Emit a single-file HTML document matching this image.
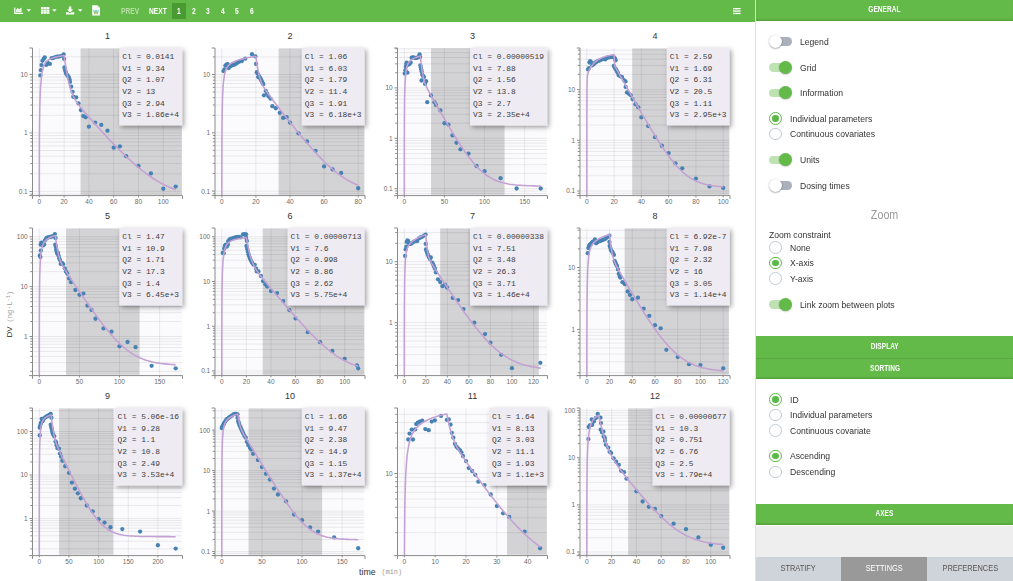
<!DOCTYPE html>
<html><head><meta charset="utf-8"><title>Individual fits</title>
<style>
*{box-sizing:border-box}
html,body{margin:0;padding:0;background:#fff;}
body{width:1013px;height:581px;overflow:hidden;position:relative;font-family:"Liberation Sans",sans-serif;color:#333;}
#tb{position:absolute;left:0;top:0;width:755px;height:21.6px;background:#63ba48;}
#tb span{position:absolute;color:#fff;font-weight:bold;font-size:8.2px;line-height:10px;top:7px;white-space:nowrap;transform-origin:0 50%;transform:scaleX(0.815);}
#tb .ic{position:absolute;}
#pg1{position:absolute;left:172px;top:2.8px;width:14.3px;height:16.2px;background:#4a9a33;}
#main{position:absolute;left:0;top:0;}
.tk text{font-family:"Liberation Sans",sans-serif;font-size:6.5px;fill:#6a6a6a;}
.ti{font-family:"Liberation Sans",sans-serif;font-size:9px;fill:#333;}
.inf text{font-family:"Liberation Mono",monospace;font-size:7.9px;fill:#3d3d3d;}
#vline{position:absolute;left:755px;top:0;width:1px;height:581px;background:#dfe2e6;}
#rp{position:absolute;left:756px;top:0;width:257px;height:581px;background:#fff;}
.bar{position:absolute;left:0;width:257px;background:#63ba48;color:#fff;font-weight:bold;font-size:8.2px;text-align:center;}
.bar b{display:inline-block;transform:scaleX(0.79);letter-spacing:0.1px}
.lbl{position:absolute;font-size:9px;line-height:12px;white-space:nowrap;color:#333;transform-origin:0 50%;transform:scaleX(0.955);}
.tg{position:absolute;left:12.5px;width:23.5px;height:13.4px;}
.tg i{position:absolute;left:2px;top:2.3px;width:21px;height:8.8px;border-radius:4.4px;background:#a9b1bc;}
.tg u{position:absolute;left:0;top:0;width:13.2px;height:13.2px;border-radius:50%;background:#fff;box-shadow:0 0.6px 1.6px rgba(0,0,0,.45);}
.tg.on i{background:#bfe2b3;left:0.5px;width:21px}
.tg.on u{left:10.3px;background:#63ba48;box-shadow:0 0.6px 1.5px rgba(0,0,0,.3);}
.rd{position:absolute;left:13px;width:12.8px;height:12.8px;border-radius:50%;border:1px solid #c3cad4;background:#fff;}
.rd.on{border-color:#5cb848;}
.rd.on:after{content:"";position:absolute;left:2.1px;top:2.1px;width:6.6px;height:6.6px;border-radius:50%;background:#5cb848;}
#tabs{position:absolute;left:0;top:557.3px;width:257px;height:24px;}
#tabs div{position:absolute;top:0;height:24px;font-size:8.9px;line-height:23px;text-align:center;color:#555;background:#cfd4da;}
#tabs div b{font-weight:normal;display:inline-block;transform:scaleX(0.835)}
</style></head>
<body>
<svg id="main" width="755" height="581" viewBox="0 0 755 581">
<defs><filter id="sh" x="-25%" y="-25%" width="160%" height="160%"><feDropShadow dx="1.8" dy="2" stdDeviation="2.9" flood-color="#000" flood-opacity="0.38"/></filter></defs>
<g>
<rect x="33.4" y="48.4" width="148.45" height="146.4" fill="#fbfbfe"/>
<rect x="80.6" y="48.4" width="101.25" height="146.4" fill="#d3d3d5"/>
<path d="M33.4 194.08H181.85M33.4 191.4H181.85M33.4 173.79H181.85M33.4 163.49H181.85M33.4 156.18H181.85M33.4 150.51H181.85M33.4 145.88H181.85M33.4 141.96H181.85M33.4 138.57H181.85M33.4 135.58H181.85M33.4 132.9H181.85M33.4 115.29H181.85M33.4 104.99H181.85M33.4 97.68H181.85M33.4 92.01H181.85M33.4 87.38H181.85M33.4 83.46H181.85M33.4 80.07H181.85M33.4 77.08H181.85M33.4 74.4H181.85M33.4 56.79H181.85M39.32 48.4V194.8M64.11 48.4V194.8M88.9 48.4V194.8M113.7 48.4V194.8M138.49 48.4V194.8M163.29 48.4V194.8" stroke="#000" stroke-opacity="0.085" stroke-width="0.9" fill="none"/>
<clipPath id="c0"><rect x="32.5" y="46" width="153" height="149.6"/></clipPath>
<g fill="#4682b4"><circle cx="40.36" cy="75.4" r="2.15"/><circle cx="40.91" cy="70.17" r="2.15"/><circle cx="41.46" cy="65.07" r="2.15"/><circle cx="42.42" cy="60.8" r="2.15"/><circle cx="43.8" cy="58.74" r="2.15"/><circle cx="44.77" cy="57.5" r="2.15"/><circle cx="46.14" cy="64.94" r="2.15"/><circle cx="47.25" cy="62.6" r="2.15"/><circle cx="48.21" cy="63.28" r="2.15"/><circle cx="49.86" cy="63.97" r="2.15"/><circle cx="51.65" cy="58.19" r="2.15"/><circle cx="53.03" cy="58.19" r="2.15"/><circle cx="55.1" cy="57.09" r="2.15"/><circle cx="57.16" cy="56.67" r="2.15"/><circle cx="58.54" cy="56.67" r="2.15"/><circle cx="60.61" cy="56.12" r="2.15"/><circle cx="62.67" cy="55.71" r="2.15"/><circle cx="63.64" cy="54.33" r="2.15"/><circle cx="64.19" cy="58.88" r="2.15"/><circle cx="64.46" cy="67.42" r="2.15"/><circle cx="65.01" cy="69.48" r="2.15"/><circle cx="65.56" cy="71.55" r="2.15"/><circle cx="66.12" cy="73.61" r="2.15"/><circle cx="67.08" cy="74.99" r="2.15"/><circle cx="68.18" cy="76.37" r="2.15"/><circle cx="68.87" cy="77.75" r="2.15"/><circle cx="69.56" cy="79.54" r="2.15"/><circle cx="69.97" cy="81.88" r="2.15"/><circle cx="71.21" cy="86.7" r="2.15"/><circle cx="72.59" cy="91.8" r="2.15"/><circle cx="73.28" cy="96.75" r="2.15"/><circle cx="76.17" cy="97.44" r="2.15"/><circle cx="78.51" cy="103.5" r="2.15"/><circle cx="80.85" cy="110.12" r="2.15"/><circle cx="83.33" cy="116.04" r="2.15"/><circle cx="85.67" cy="117.28" r="2.15"/><circle cx="88.9" cy="126.63" r="2.15"/><circle cx="95.1" cy="122.6" r="2.15"/><circle cx="101.3" cy="124.9" r="2.15"/><circle cx="107.5" cy="130.71" r="2.15"/><circle cx="113.7" cy="147.63" r="2.15"/><circle cx="119.9" cy="146.31" r="2.15"/><circle cx="126.1" cy="156.18" r="2.15"/><circle cx="138.49" cy="165.88" r="2.15"/><circle cx="150.89" cy="173.41" r="2.15"/><circle cx="163.29" cy="188.75" r="2.15"/><circle cx="175.68" cy="186.56" r="2.15"/></g>
<path d="M39.32 201.6 L39.37 162.51 L39.42 145.27 L39.47 135.25 L39.53 128.19 L39.58 122.76 L39.63 118.36 L39.68 114.68 L39.73 111.51 L39.78 108.74 L39.84 106.29 L39.89 104.09 L39.94 102.1 L39.99 100.29 L40.04 98.62 L40.09 97.09 L40.14 95.66 L40.2 94.34 L40.25 93.1 L40.3 91.94 L40.35 90.85 L40.4 89.82 L40.45 88.85 L40.51 87.93 L40.56 87.06 L41.37 77.44 L42.18 71.95 L42.99 68.41 L43.81 65.96 L44.62 64.19 L45.43 62.86 L46.24 61.84 L47.06 61.03 L47.87 60.37 L48.68 59.82 L49.49 59.36 L50.3 58.97 L51.12 58.62 L51.93 58.3 L52.74 58.02 L53.55 57.77 L54.37 57.53 L55.18 57.31 L55.99 57.1 L56.8 56.91 L57.61 56.73 L58.43 56.56 L59.24 56.39 L60.05 56.23 L60.86 56.08 L61.67 55.94 L62.49 55.81 L63.3 55.68 L64.11 55.55 L64.59 58.89 L65.07 62.11 L65.54 65.19 L66.02 68.13 L66.5 70.93 L66.97 73.57 L67.45 76.07 L67.93 78.42 L68.4 80.62 L68.88 82.68 L69.36 84.59 L69.83 86.37 L70.31 88.03 L70.79 89.57 L71.26 91 L71.74 92.32 L72.22 93.56 L72.69 94.71 L73.17 95.79 L73.65 96.8 L74.12 97.76 L74.6 98.65 L75.08 99.51 L75.55 100.32 L76.03 101.09 L76.51 101.84 L76.99 102.55 L77.46 103.25 L77.94 103.92 L78.42 104.57 L78.89 105.21 L79.37 105.84 L79.85 106.45 L80.32 107.05 L80.8 107.65 L81.28 108.24 L81.75 108.82 L82.23 109.39 L82.71 109.96 L84.6 112.19 L86.5 114.38 L88.4 116.54 L90.3 118.68 L92.19 120.81 L94.09 122.93 L95.99 125.04 L97.89 127.14 L99.78 129.22 L101.68 131.3 L103.58 133.36 L105.48 135.4 L107.37 137.44 L109.27 139.45 L111.17 141.45 L113.07 143.43 L114.96 145.4 L116.86 147.34 L118.76 149.26 L120.66 151.15 L122.55 153.02 L124.45 154.87 L126.35 156.69 L128.25 158.47 L130.14 160.23 L132.04 161.95 L133.94 163.64 L135.84 165.29 L137.73 166.9 L139.63 168.47 L141.53 170.01 L143.43 171.5 L145.32 172.94 L147.22 174.35 L149.12 175.7 L151.01 177.01 L152.91 178.27 L154.81 179.49 L156.71 180.66 L158.6 181.77 L160.5 182.84 L162.4 183.86 L164.3 184.84 L166.19 185.76 L168.09 186.64 L169.99 187.47 L171.89 188.26 L173.78 189 L175.68 189.71" clip-path="url(#c0)" stroke="#c4a0d4" stroke-width="1.55" fill="none" stroke-linejoin="round"/>
<path d="M29.2 48H32.5V195.6H29.2M32.5 198.9V195.6H182.5V198.9M32.5 194.08h-2.2M32.5 191.4h-3M32.5 173.79h-2.2M32.5 163.49h-2.2M32.5 156.18h-2.2M32.5 150.51h-2.2M32.5 145.88h-2.2M32.5 141.96h-2.2M32.5 138.57h-2.2M32.5 135.58h-2.2M32.5 132.9h-3M32.5 115.29h-2.2M32.5 104.99h-2.2M32.5 97.68h-2.2M32.5 92.01h-2.2M32.5 87.38h-2.2M32.5 83.46h-2.2M32.5 80.07h-2.2M32.5 77.08h-2.2M32.5 74.4h-3M32.5 56.79h-2.2M39.32 195.6v1.8M64.11 195.6v1.8M88.9 195.6v1.8M113.7 195.6v1.8M138.49 195.6v1.8M163.29 195.6v1.8" stroke="#8a8a8a" stroke-width="1" fill="none"/>
<g class="tk"><text x="27.7" y="193.8" text-anchor="end">0.1</text><text x="27.7" y="135.3" text-anchor="end">1</text><text x="27.7" y="76.8" text-anchor="end">10</text><text x="39.32" y="204.1" text-anchor="middle">0</text><text x="64.11" y="204.1" text-anchor="middle">20</text><text x="88.9" y="204.1" text-anchor="middle">40</text><text x="113.7" y="204.1" text-anchor="middle">60</text><text x="138.49" y="204.1" text-anchor="middle">80</text><text x="163.29" y="204.1" text-anchor="middle">100</text></g>
<text class="ti" x="107.5" y="38.7" text-anchor="middle">1</text>
<rect x="119.24" y="48" width="62.86" height="77.4" fill="#efebf2" filter="url(#sh)"/>
<g class="inf"><text x="122.24" y="59.3" textLength="52.03" lengthAdjust="spacingAndGlyphs">Cl = 0.0141</text><text x="122.24" y="70.85" textLength="42.57" lengthAdjust="spacingAndGlyphs">V1 = 9.34</text><text x="122.24" y="82.4" textLength="42.57" lengthAdjust="spacingAndGlyphs">Q2 = 1.07</text><text x="122.24" y="93.95" textLength="33.11" lengthAdjust="spacingAndGlyphs">V2 = 13</text><text x="122.24" y="105.5" textLength="42.57" lengthAdjust="spacingAndGlyphs">Q3 = 2.94</text><text x="122.24" y="117.05" textLength="56.76" lengthAdjust="spacingAndGlyphs">V3 = 1.86e+4</text></g>
</g>
<g>
<rect x="215.9" y="48.4" width="148.45" height="146.4" fill="#fbfbfe"/>
<rect x="278.58" y="48.4" width="85.77" height="146.4" fill="#d3d3d5"/>
<path d="M215.9 193.77H364.35M215.9 191.1H364.35M215.9 173.55H364.35M215.9 163.28H364.35M215.9 156H364.35M215.9 150.35H364.35M215.9 145.73H364.35M215.9 141.83H364.35M215.9 138.45H364.35M215.9 135.47H364.35M215.9 132.8H364.35M215.9 115.25H364.35M215.9 104.98H364.35M215.9 97.7H364.35M215.9 92.05H364.35M215.9 87.43H364.35M215.9 83.53H364.35M215.9 80.15H364.35M215.9 77.17H364.35M215.9 74.5H364.35M215.9 56.95H364.35M221.82 48.4V194.8M255.91 48.4V194.8M290 48.4V194.8M324.09 48.4V194.8M358.18 48.4V194.8" stroke="#000" stroke-opacity="0.085" stroke-width="0.9" fill="none"/>
<clipPath id="c1"><rect x="215" y="46" width="153" height="149.6"/></clipPath>
<g fill="#4682b4"><circle cx="223.49" cy="71.11" r="2.15"/><circle cx="224.45" cy="69.46" r="2.15"/><circle cx="225.41" cy="65.6" r="2.15"/><circle cx="226.51" cy="64.64" r="2.15"/><circle cx="227.61" cy="64.23" r="2.15"/><circle cx="228.58" cy="68.08" r="2.15"/><circle cx="229.54" cy="66.71" r="2.15"/><circle cx="230.64" cy="66.02" r="2.15"/><circle cx="232.02" cy="65.33" r="2.15"/><circle cx="233.39" cy="64.92" r="2.15"/><circle cx="235.04" cy="64.37" r="2.15"/><circle cx="236.83" cy="63.27" r="2.15"/><circle cx="238.9" cy="61.89" r="2.15"/><circle cx="241.93" cy="61.06" r="2.15"/><circle cx="245.23" cy="58.72" r="2.15"/><circle cx="251.97" cy="54.18" r="2.15"/><circle cx="255.41" cy="56.38" r="2.15"/><circle cx="256.1" cy="63.95" r="2.15"/><circle cx="256.79" cy="72.21" r="2.15"/><circle cx="257.47" cy="73.31" r="2.15"/><circle cx="258.16" cy="77.03" r="2.15"/><circle cx="259.13" cy="76.34" r="2.15"/><circle cx="259.81" cy="77.71" r="2.15"/><circle cx="260.5" cy="78.68" r="2.15"/><circle cx="261.19" cy="80.05" r="2.15"/><circle cx="261.88" cy="81.43" r="2.15"/><circle cx="262.57" cy="82.81" r="2.15"/><circle cx="263.25" cy="84.18" r="2.15"/><circle cx="265.73" cy="90.79" r="2.15"/><circle cx="263.94" cy="95.33" r="2.15"/><circle cx="267.11" cy="93.54" r="2.15"/><circle cx="268.48" cy="96.29" r="2.15"/><circle cx="270.55" cy="98.63" r="2.15"/><circle cx="272.34" cy="106.2" r="2.15"/><circle cx="275.78" cy="108.26" r="2.15"/><circle cx="279.77" cy="112.84" r="2.15"/><circle cx="283.18" cy="117.92" r="2.15"/><circle cx="286.59" cy="117.22" r="2.15"/><circle cx="290" cy="122.53" r="2.15"/><circle cx="298.52" cy="133.31" r="2.15"/><circle cx="307.05" cy="141.47" r="2.15"/><circle cx="315.57" cy="150.86" r="2.15"/><circle cx="324.09" cy="166.42" r="2.15"/><circle cx="332.61" cy="169.47" r="2.15"/><circle cx="341.14" cy="172.92" r="2.15"/><circle cx="358.18" cy="188.23" r="2.15"/></g>
<path d="M221.82 201.6 L221.89 152.98 L221.96 135.99 L222.03 126.19 L222.1 119.33 L222.17 114.1 L222.24 109.89 L222.32 106.4 L222.39 103.41 L222.46 100.83 L222.53 98.55 L222.6 96.53 L222.67 94.71 L222.74 93.06 L222.81 91.56 L222.88 90.19 L222.95 88.93 L223.03 87.77 L223.1 86.68 L223.17 85.68 L223.24 84.74 L223.31 83.86 L223.38 83.04 L223.45 82.26 L223.52 81.54 L224.64 73.9 L225.76 69.96 L226.87 67.58 L227.99 65.99 L229.11 64.82 L230.22 63.91 L231.34 63.15 L232.46 62.5 L233.57 61.93 L234.69 61.41 L235.81 60.94 L236.92 60.51 L238.04 60.12 L239.16 59.75 L240.27 59.41 L241.39 59.09 L242.51 58.79 L243.62 58.52 L244.74 58.26 L245.86 58.02 L246.97 57.8 L248.09 57.59 L249.21 57.39 L250.33 57.21 L251.44 57.04 L252.56 56.88 L253.68 56.72 L254.79 56.58 L255.91 56.45 L256.56 61.29 L257.22 65.58 L257.88 69.34 L258.53 72.6 L259.19 75.4 L259.84 77.81 L260.5 79.9 L261.15 81.71 L261.81 83.3 L262.47 84.73 L263.12 86.02 L263.78 87.2 L264.43 88.31 L265.09 89.35 L265.74 90.35 L266.4 91.32 L267.05 92.26 L267.71 93.18 L268.37 94.09 L269.02 94.98 L269.68 95.87 L270.33 96.75 L270.99 97.62 L271.64 98.49 L272.3 99.36 L272.95 100.23 L273.61 101.09 L274.27 101.95 L274.92 102.81 L275.58 103.67 L276.23 104.53 L276.89 105.38 L277.54 106.24 L278.2 107.09 L278.85 107.94 L279.51 108.79 L280.17 109.65 L280.82 110.49 L281.48 111.34 L283.04 113.36 L284.61 115.38 L286.17 117.39 L287.74 119.38 L289.3 121.37 L290.87 123.36 L292.44 125.33 L294 127.29 L295.57 129.24 L297.13 131.17 L298.7 133.1 L300.26 135.01 L301.83 136.9 L303.39 138.78 L304.96 140.64 L306.52 142.49 L308.09 144.31 L309.65 146.11 L311.22 147.89 L312.79 149.65 L314.35 151.39 L315.92 153.09 L317.48 154.77 L319.05 156.42 L320.61 158.05 L322.18 159.64 L323.74 161.19 L325.31 162.72 L326.87 164.2 L328.44 165.65 L330 167.07 L331.57 168.44 L333.14 169.78 L334.7 171.07 L336.27 172.32 L337.83 173.53 L339.4 174.7 L340.96 175.82 L342.53 176.9 L344.09 177.94 L345.66 178.93 L347.22 179.88 L348.79 180.78 L350.35 181.65 L351.92 182.47 L353.49 183.25 L355.05 183.99 L356.62 184.69 L358.18 185.36" clip-path="url(#c1)" stroke="#c4a0d4" stroke-width="1.55" fill="none" stroke-linejoin="round"/>
<path d="M211.7 48H215V195.6H211.7M215 198.9V195.6H365V198.9M215 193.77h-2.2M215 191.1h-3M215 173.55h-2.2M215 163.28h-2.2M215 156h-2.2M215 150.35h-2.2M215 145.73h-2.2M215 141.83h-2.2M215 138.45h-2.2M215 135.47h-2.2M215 132.8h-3M215 115.25h-2.2M215 104.98h-2.2M215 97.7h-2.2M215 92.05h-2.2M215 87.43h-2.2M215 83.53h-2.2M215 80.15h-2.2M215 77.17h-2.2M215 74.5h-3M215 56.95h-2.2M221.82 195.6v1.8M255.91 195.6v1.8M290 195.6v1.8M324.09 195.6v1.8M358.18 195.6v1.8" stroke="#8a8a8a" stroke-width="1" fill="none"/>
<g class="tk"><text x="210.2" y="193.5" text-anchor="end">0.1</text><text x="210.2" y="135.2" text-anchor="end">1</text><text x="210.2" y="76.9" text-anchor="end">10</text><text x="221.82" y="204.1" text-anchor="middle">0</text><text x="255.91" y="204.1" text-anchor="middle">20</text><text x="290" y="204.1" text-anchor="middle">40</text><text x="324.09" y="204.1" text-anchor="middle">60</text><text x="358.18" y="204.1" text-anchor="middle">80</text></g>
<text class="ti" x="290" y="38.7" text-anchor="middle">2</text>
<rect x="301.74" y="48" width="62.86" height="77.4" fill="#efebf2" filter="url(#sh)"/>
<g class="inf"><text x="304.74" y="59.3" textLength="42.57" lengthAdjust="spacingAndGlyphs">Cl = 1.06</text><text x="304.74" y="70.85" textLength="42.57" lengthAdjust="spacingAndGlyphs">V1 = 6.03</text><text x="304.74" y="82.4" textLength="42.57" lengthAdjust="spacingAndGlyphs">Q2 = 1.79</text><text x="304.74" y="93.95" textLength="42.57" lengthAdjust="spacingAndGlyphs">V2 = 11.4</text><text x="304.74" y="105.5" textLength="42.57" lengthAdjust="spacingAndGlyphs">Q3 = 1.91</text><text x="304.74" y="117.05" textLength="56.76" lengthAdjust="spacingAndGlyphs">V3 = 6.18e+3</text></g>
</g>
<g>
<rect x="398.4" y="48.4" width="148.45" height="146.4" fill="#fbfbfe"/>
<rect x="431.03" y="48.4" width="73.56" height="146.4" fill="#d3d3d5"/>
<path d="M398.4 193.58H546.85M398.4 191.01H546.85M398.4 188.7H546.85M398.4 173.53H546.85M398.4 164.65H546.85M398.4 158.36H546.85M398.4 153.47H546.85M398.4 149.48H546.85M398.4 146.11H546.85M398.4 143.18H546.85M398.4 140.61H546.85M398.4 138.3H546.85M398.4 123.13H546.85M398.4 114.25H546.85M398.4 107.96H546.85M398.4 103.07H546.85M398.4 99.08H546.85M398.4 95.71H546.85M398.4 92.78H546.85M398.4 90.21H546.85M398.4 87.9H546.85M398.4 72.73H546.85M398.4 63.85H546.85M398.4 57.56H546.85M398.4 52.67H546.85M398.4 48.68H546.85M404.32 48.4V194.8M444.43 48.4V194.8M484.53 48.4V194.8M524.64 48.4V194.8" stroke="#000" stroke-opacity="0.085" stroke-width="0.9" fill="none"/>
<clipPath id="c2"><rect x="397.5" y="46" width="153" height="149.6"/></clipPath>
<g fill="#4682b4"><circle cx="404.71" cy="73.61" r="2.15"/><circle cx="405.4" cy="70.17" r="2.15"/><circle cx="405.81" cy="66.73" r="2.15"/><circle cx="406.36" cy="63.97" r="2.15"/><circle cx="406.77" cy="62.6" r="2.15"/><circle cx="407.46" cy="72.65" r="2.15"/><circle cx="408.43" cy="64.66" r="2.15"/><circle cx="409.53" cy="63.97" r="2.15"/><circle cx="410.63" cy="62.6" r="2.15"/><circle cx="411.6" cy="57.77" r="2.15"/><circle cx="412.97" cy="57.36" r="2.15"/><circle cx="414.35" cy="57.77" r="2.15"/><circle cx="415.73" cy="58.05" r="2.15"/><circle cx="417.1" cy="57.77" r="2.15"/><circle cx="418.48" cy="57.09" r="2.15"/><circle cx="419.58" cy="54.33" r="2.15"/><circle cx="420.13" cy="57.09" r="2.15"/><circle cx="420.41" cy="65.35" r="2.15"/><circle cx="420.82" cy="67.42" r="2.15"/><circle cx="421.24" cy="69.48" r="2.15"/><circle cx="421.65" cy="71.55" r="2.15"/><circle cx="422.2" cy="74.58" r="2.15"/><circle cx="421.51" cy="80.5" r="2.15"/><circle cx="423.03" cy="75.96" r="2.15"/><circle cx="423.99" cy="77.06" r="2.15"/><circle cx="425.09" cy="83.94" r="2.15"/><circle cx="426.06" cy="81.19" r="2.15"/><circle cx="427.26" cy="102.21" r="2.15"/><circle cx="430.95" cy="95.49" r="2.15"/><circle cx="434.48" cy="102.21" r="2.15"/><circle cx="435.92" cy="104.9" r="2.15"/><circle cx="440.41" cy="110.38" r="2.15"/><circle cx="444.43" cy="123.24" r="2.15"/><circle cx="448.44" cy="124.6" r="2.15"/><circle cx="452.45" cy="135.43" r="2.15"/><circle cx="456.46" cy="142.78" r="2.15"/><circle cx="460.47" cy="149.3" r="2.15"/><circle cx="468.49" cy="153.6" r="2.15"/><circle cx="476.51" cy="166.01" r="2.15"/><circle cx="484.53" cy="171.24" r="2.15"/><circle cx="500.57" cy="178.14" r="2.15"/><circle cx="516.62" cy="188.48" r="2.15"/><circle cx="540.68" cy="188.48" r="2.15"/></g>
<path d="M404.32 201.6 L404.35 146.17 L404.39 131.37 L404.42 122.78 L404.45 116.75 L404.49 112.12 L404.52 108.38 L404.55 105.25 L404.59 102.57 L404.62 100.23 L404.65 98.16 L404.69 96.31 L404.72 94.64 L404.75 93.12 L404.79 91.73 L404.82 90.45 L404.85 89.27 L404.89 88.17 L404.92 87.14 L404.95 86.18 L404.99 85.28 L405.02 84.44 L405.05 83.64 L405.09 82.89 L405.12 82.18 L405.65 74.43 L406.17 70.15 L406.7 67.44 L407.22 65.58 L407.75 64.24 L408.27 63.22 L408.8 62.42 L409.32 61.75 L409.85 61.19 L410.38 60.71 L410.9 60.28 L411.43 59.89 L411.95 59.53 L412.48 59.2 L413 58.9 L413.53 58.62 L414.05 58.35 L414.58 58.1 L415.11 57.86 L415.63 57.64 L416.16 57.43 L416.68 57.22 L417.21 57.03 L417.73 56.85 L418.26 56.68 L418.78 56.52 L419.31 56.36 L419.84 56.22 L420.36 56.08 L420.67 59.18 L420.98 62.07 L421.29 64.74 L421.6 67.19 L421.9 69.43 L422.21 71.47 L422.52 73.31 L422.83 74.98 L423.14 76.49 L423.45 77.86 L423.75 79.1 L424.06 80.23 L424.37 81.27 L424.68 82.23 L424.99 83.12 L425.3 83.95 L425.61 84.73 L425.91 85.47 L426.22 86.18 L426.53 86.86 L426.84 87.52 L427.15 88.15 L427.46 88.77 L427.77 89.38 L428.07 89.98 L428.38 90.57 L428.69 91.15 L429 91.72 L429.31 92.29 L429.62 92.86 L429.92 93.42 L430.23 93.98 L430.54 94.54 L430.85 95.09 L431.16 95.64 L431.47 96.19 L431.78 96.75 L432.08 97.29 L432.39 97.84 L434.6 101.75 L436.81 105.64 L439.02 109.51 L441.23 113.36 L443.44 117.18 L445.65 120.97 L447.86 124.73 L450.07 128.44 L452.28 132.11 L454.49 135.72 L456.7 139.27 L458.91 142.74 L461.12 146.12 L463.33 149.41 L465.54 152.59 L467.75 155.65 L469.96 158.57 L472.17 161.34 L474.38 163.96 L476.59 166.41 L478.8 168.69 L481.01 170.79 L483.22 172.7 L485.43 174.44 L487.64 176.01 L489.85 177.4 L492.06 178.64 L494.27 179.72 L496.48 180.67 L498.69 181.49 L500.9 182.2 L503.11 182.82 L505.32 183.34 L507.53 183.78 L509.74 184.16 L511.95 184.48 L514.16 184.76 L516.37 184.98 L518.58 185.18 L520.79 185.34 L523 185.47 L525.21 185.59 L527.42 185.68 L529.63 185.76 L531.84 185.83 L534.05 185.89 L536.26 185.93 L538.47 185.97 L540.68 186.01" clip-path="url(#c2)" stroke="#c4a0d4" stroke-width="1.55" fill="none" stroke-linejoin="round"/>
<path d="M394.2 48H397.5V195.6H394.2M397.5 198.9V195.6H547.5V198.9M397.5 193.58h-2.2M397.5 191.01h-2.2M397.5 188.7h-3M397.5 173.53h-2.2M397.5 164.65h-2.2M397.5 158.36h-2.2M397.5 153.47h-2.2M397.5 149.48h-2.2M397.5 146.11h-2.2M397.5 143.18h-2.2M397.5 140.61h-2.2M397.5 138.3h-3M397.5 123.13h-2.2M397.5 114.25h-2.2M397.5 107.96h-2.2M397.5 103.07h-2.2M397.5 99.08h-2.2M397.5 95.71h-2.2M397.5 92.78h-2.2M397.5 90.21h-2.2M397.5 87.9h-3M397.5 72.73h-2.2M397.5 63.85h-2.2M397.5 57.56h-2.2M397.5 52.67h-2.2M397.5 48.68h-2.2M404.32 195.6v1.8M444.43 195.6v1.8M484.53 195.6v1.8M524.64 195.6v1.8" stroke="#8a8a8a" stroke-width="1" fill="none"/>
<g class="tk"><text x="392.7" y="191.1" text-anchor="end">0.1</text><text x="392.7" y="140.7" text-anchor="end">1</text><text x="392.7" y="90.3" text-anchor="end">10</text><text x="404.32" y="204.1" text-anchor="middle">0</text><text x="444.43" y="204.1" text-anchor="middle">50</text><text x="484.53" y="204.1" text-anchor="middle">100</text><text x="524.64" y="204.1" text-anchor="middle">150</text></g>
<text class="ti" x="472.5" y="38.7" text-anchor="middle">3</text>
<rect x="470.05" y="48" width="77.05" height="77.4" fill="#efebf2" filter="url(#sh)"/>
<g class="inf"><text x="473.05" y="59.3" textLength="70.95" lengthAdjust="spacingAndGlyphs">Cl = 0.00000519</text><text x="473.05" y="70.85" textLength="42.57" lengthAdjust="spacingAndGlyphs">V1 = 7.88</text><text x="473.05" y="82.4" textLength="42.57" lengthAdjust="spacingAndGlyphs">Q2 = 1.56</text><text x="473.05" y="93.95" textLength="42.57" lengthAdjust="spacingAndGlyphs">V2 = 13.8</text><text x="473.05" y="105.5" textLength="37.84" lengthAdjust="spacingAndGlyphs">Q3 = 2.7</text><text x="473.05" y="117.05" textLength="56.76" lengthAdjust="spacingAndGlyphs">V3 = 2.35e+4</text></g>
</g>
<g>
<rect x="580.9" y="48.4" width="148.45" height="146.4" fill="#fbfbfe"/>
<rect x="632.23" y="48.4" width="97.12" height="146.4" fill="#d3d3d5"/>
<path d="M580.9 193.32H729.35M580.9 191H729.35M580.9 175.74H729.35M580.9 166.81H729.35M580.9 160.48H729.35M580.9 155.56H729.35M580.9 151.55H729.35M580.9 148.15H729.35M580.9 145.21H729.35M580.9 142.62H729.35M580.9 140.3H729.35M580.9 125.04H729.35M580.9 116.11H729.35M580.9 109.78H729.35M580.9 104.86H729.35M580.9 100.85H729.35M580.9 97.45H729.35M580.9 94.51H729.35M580.9 91.92H729.35M580.9 89.6H729.35M580.9 74.34H729.35M580.9 65.41H729.35M580.9 59.08H729.35M580.9 54.16H729.35M580.9 50.15H729.35M586.82 48.4V194.8M614.09 48.4V194.8M641.36 48.4V194.8M668.64 48.4V194.8M695.91 48.4V194.8M723.18 48.4V194.8" stroke="#000" stroke-opacity="0.085" stroke-width="0.9" fill="none"/>
<clipPath id="c3"><rect x="580" y="46" width="153" height="149.6"/></clipPath>
<g fill="#4682b4"><circle cx="588.07" cy="69.46" r="2.15"/><circle cx="589.04" cy="68.08" r="2.15"/><circle cx="589.45" cy="62.58" r="2.15"/><circle cx="590.14" cy="61.2" r="2.15"/><circle cx="590.82" cy="61.89" r="2.15"/><circle cx="592.2" cy="65.33" r="2.15"/><circle cx="593.58" cy="64.37" r="2.15"/><circle cx="594.95" cy="62.99" r="2.15"/><circle cx="596.33" cy="61.89" r="2.15"/><circle cx="597.71" cy="61.2" r="2.15"/><circle cx="599.49" cy="60.51" r="2.15"/><circle cx="601.15" cy="59.82" r="2.15"/><circle cx="603.21" cy="58.86" r="2.15"/><circle cx="605.27" cy="59.41" r="2.15"/><circle cx="607.34" cy="57.76" r="2.15"/><circle cx="609.4" cy="57.35" r="2.15"/><circle cx="611.47" cy="57.07" r="2.15"/><circle cx="613.53" cy="56.8" r="2.15"/><circle cx="614.91" cy="58.45" r="2.15"/><circle cx="615.59" cy="60.24" r="2.15"/><circle cx="613.81" cy="66.02" r="2.15"/><circle cx="614.91" cy="68.08" r="2.15"/><circle cx="616.01" cy="69.46" r="2.15"/><circle cx="616.97" cy="71.52" r="2.15"/><circle cx="617.93" cy="72.9" r="2.15"/><circle cx="618.76" cy="75.37" r="2.15"/><circle cx="620.41" cy="76.34" r="2.15"/><circle cx="622.06" cy="77.03" r="2.15"/><circle cx="623.85" cy="80.05" r="2.15"/><circle cx="625.5" cy="81.43" r="2.15"/><circle cx="625.64" cy="86.93" r="2.15"/><circle cx="627.02" cy="92.44" r="2.15"/><circle cx="628.94" cy="93.81" r="2.15"/><circle cx="630.73" cy="95.19" r="2.15"/><circle cx="632.52" cy="99.04" r="2.15"/><circle cx="635.55" cy="104.27" r="2.15"/><circle cx="638.3" cy="107.3" r="2.15"/><circle cx="641.36" cy="117.32" r="2.15"/><circle cx="648.18" cy="126.05" r="2.15"/><circle cx="655" cy="137.22" r="2.15"/><circle cx="661.82" cy="145.77" r="2.15"/><circle cx="668.64" cy="153.07" r="2.15"/><circle cx="675.45" cy="163.29" r="2.15"/><circle cx="682.27" cy="168.33" r="2.15"/><circle cx="695.91" cy="178.55" r="2.15"/><circle cx="709.55" cy="186.44" r="2.15"/><circle cx="723.18" cy="187.92" r="2.15"/></g>
<path d="M586.82 201.6 L586.82 203.21 L586.88 108.23 L586.93 95.62 L586.99 89.14 L587.05 85.1 L587.1 82.36 L587.16 80.4 L587.22 78.95 L587.27 77.84 L587.33 76.98 L587.39 76.29 L587.44 75.74 L587.5 75.28 L587.56 74.89 L587.61 74.56 L587.67 74.27 L587.73 74.01 L587.78 73.78 L587.84 73.56 L587.9 73.37 L587.95 73.18 L588.01 73.01 L588.07 72.84 L588.13 72.68 L588.18 72.52 L589.08 70.42 L589.97 68.65 L590.86 67.13 L591.76 65.8 L592.65 64.63 L593.54 63.59 L594.44 62.67 L595.33 61.85 L596.22 61.11 L597.12 60.44 L598.01 59.84 L598.9 59.3 L599.8 58.8 L600.69 58.35 L601.58 57.93 L602.48 57.56 L603.37 57.21 L604.26 56.89 L605.16 56.6 L606.05 56.34 L606.94 56.09 L607.84 55.86 L608.73 55.65 L609.62 55.46 L610.52 55.28 L611.41 55.12 L612.3 54.97 L613.2 54.83 L614.09 54.7 L614.62 64.63 L615.14 66.69 L615.66 67.73 L616.19 68.67 L616.71 69.6 L617.24 70.53 L617.76 71.46 L618.29 72.39 L618.81 73.31 L619.34 74.24 L619.86 75.17 L620.38 76.1 L620.91 77.02 L621.43 77.95 L621.96 78.88 L622.48 79.8 L623.01 80.73 L623.53 81.65 L624.06 82.58 L624.58 83.5 L625.1 84.43 L625.63 85.35 L626.15 86.28 L626.68 87.2 L627.2 88.12 L627.73 89.04 L628.25 89.97 L628.78 90.89 L629.3 91.81 L629.83 92.73 L630.35 93.65 L630.87 94.57 L631.4 95.49 L631.92 96.41 L632.45 97.32 L632.97 98.24 L633.5 99.16 L634.02 100.07 L634.55 100.99 L636.35 104.14 L638.16 107.28 L639.97 110.4 L641.78 113.52 L643.59 116.62 L645.4 119.69 L647.21 122.75 L649.02 125.79 L650.83 128.8 L652.63 131.77 L654.44 134.72 L656.25 137.62 L658.06 140.48 L659.87 143.3 L661.68 146.05 L663.49 148.75 L665.3 151.38 L667.11 153.94 L668.91 156.41 L670.72 158.8 L672.53 161.1 L674.34 163.3 L676.15 165.4 L677.96 167.38 L679.77 169.26 L681.58 171.02 L683.39 172.66 L685.19 174.19 L687 175.6 L688.81 176.89 L690.62 178.08 L692.43 179.16 L694.24 180.14 L696.05 181.02 L697.86 181.81 L699.67 182.52 L701.47 183.15 L703.28 183.72 L705.09 184.22 L706.9 184.66 L708.71 185.05 L710.52 185.39 L712.33 185.69 L714.14 185.96 L715.95 186.19 L717.76 186.39 L719.56 186.57 L721.37 186.73 L723.18 186.86" clip-path="url(#c3)" stroke="#c4a0d4" stroke-width="1.55" fill="none" stroke-linejoin="round"/>
<path d="M576.7 48H580V195.6H576.7M580 198.9V195.6H730V198.9M580 193.32h-2.2M580 191h-3M580 175.74h-2.2M580 166.81h-2.2M580 160.48h-2.2M580 155.56h-2.2M580 151.55h-2.2M580 148.15h-2.2M580 145.21h-2.2M580 142.62h-2.2M580 140.3h-3M580 125.04h-2.2M580 116.11h-2.2M580 109.78h-2.2M580 104.86h-2.2M580 100.85h-2.2M580 97.45h-2.2M580 94.51h-2.2M580 91.92h-2.2M580 89.6h-3M580 74.34h-2.2M580 65.41h-2.2M580 59.08h-2.2M580 54.16h-2.2M580 50.15h-2.2M586.82 195.6v1.8M614.09 195.6v1.8M641.36 195.6v1.8M668.64 195.6v1.8M695.91 195.6v1.8M723.18 195.6v1.8" stroke="#8a8a8a" stroke-width="1" fill="none"/>
<g class="tk"><text x="575.2" y="193.4" text-anchor="end">0.1</text><text x="575.2" y="142.7" text-anchor="end">1</text><text x="575.2" y="92" text-anchor="end">10</text><text x="586.82" y="204.1" text-anchor="middle">0</text><text x="614.09" y="204.1" text-anchor="middle">20</text><text x="641.36" y="204.1" text-anchor="middle">40</text><text x="668.64" y="204.1" text-anchor="middle">60</text><text x="695.91" y="204.1" text-anchor="middle">80</text><text x="723.18" y="204.1" text-anchor="middle">100</text></g>
<text class="ti" x="655" y="38.7" text-anchor="middle">4</text>
<rect x="666.74" y="48" width="62.86" height="77.4" fill="#efebf2" filter="url(#sh)"/>
<g class="inf"><text x="669.74" y="59.3" textLength="42.57" lengthAdjust="spacingAndGlyphs">Cl = 2.59</text><text x="669.74" y="70.85" textLength="42.57" lengthAdjust="spacingAndGlyphs">V1 = 1.69</text><text x="669.74" y="82.4" textLength="42.57" lengthAdjust="spacingAndGlyphs">Q2 = 6.31</text><text x="669.74" y="93.95" textLength="42.57" lengthAdjust="spacingAndGlyphs">V2 = 20.5</text><text x="669.74" y="105.5" textLength="42.57" lengthAdjust="spacingAndGlyphs">Q3 = 1.11</text><text x="669.74" y="117.05" textLength="56.76" lengthAdjust="spacingAndGlyphs">V3 = 2.95e+3</text></g>
</g>
<g>
<rect x="33.4" y="228.4" width="148.45" height="146.4" fill="#fbfbfe"/>
<rect x="66.03" y="228.4" width="73.56" height="146.4" fill="#d3d3d5"/>
<path d="M33.4 371.34H181.85M33.4 362.57H181.85M33.4 356.34H181.85M33.4 351.51H181.85M33.4 347.56H181.85M33.4 344.22H181.85M33.4 341.33H181.85M33.4 338.78H181.85M33.4 336.5H181.85M33.4 321.49H181.85M33.4 312.72H181.85M33.4 306.49H181.85M33.4 301.66H181.85M33.4 297.71H181.85M33.4 294.37H181.85M33.4 291.48H181.85M33.4 288.93H181.85M33.4 286.65H181.85M33.4 271.64H181.85M33.4 262.87H181.85M33.4 256.64H181.85M33.4 251.81H181.85M33.4 247.86H181.85M33.4 244.52H181.85M33.4 241.63H181.85M33.4 239.08H181.85M33.4 236.8H181.85M39.32 228.4V374.8M79.43 228.4V374.8M119.53 228.4V374.8M159.64 228.4V374.8" stroke="#000" stroke-opacity="0.085" stroke-width="0.9" fill="none"/>
<clipPath id="c4"><rect x="32.5" y="226" width="153" height="149.6"/></clipPath>
<g fill="#4682b4"><circle cx="39.85" cy="255.4" r="2.15"/><circle cx="40.4" cy="257.06" r="2.15"/><circle cx="40.81" cy="250.58" r="2.15"/><circle cx="40.67" cy="244.66" r="2.15"/><circle cx="41.36" cy="242.6" r="2.15"/><circle cx="42.19" cy="243.28" r="2.15"/><circle cx="43.15" cy="245.35" r="2.15"/><circle cx="44.12" cy="244.39" r="2.15"/><circle cx="44.8" cy="240.53" r="2.15"/><circle cx="45.91" cy="238.88" r="2.15"/><circle cx="47.01" cy="237.77" r="2.15"/><circle cx="48.39" cy="237.36" r="2.15"/><circle cx="49.76" cy="237.09" r="2.15"/><circle cx="51.14" cy="236.67" r="2.15"/><circle cx="52.52" cy="236.4" r="2.15"/><circle cx="53.9" cy="235.98" r="2.15"/><circle cx="54.86" cy="234.06" r="2.15"/><circle cx="55.55" cy="238.05" r="2.15"/><circle cx="55.27" cy="244.66" r="2.15"/><circle cx="55.82" cy="246.73" r="2.15"/><circle cx="56.24" cy="249.48" r="2.15"/><circle cx="56.65" cy="251.55" r="2.15"/><circle cx="57.2" cy="253.61" r="2.15"/><circle cx="58.03" cy="252.93" r="2.15"/><circle cx="58.58" cy="255.68" r="2.15"/><circle cx="59.27" cy="258.44" r="2.15"/><circle cx="59.96" cy="260.09" r="2.15"/><circle cx="60.78" cy="263.94" r="2.15"/><circle cx="62.02" cy="262.98" r="2.15"/><circle cx="63.12" cy="264.22" r="2.15"/><circle cx="64.78" cy="268.35" r="2.15"/><circle cx="65.88" cy="271.52" r="2.15"/><circle cx="67.26" cy="273.59" r="2.15"/><circle cx="69.05" cy="278.41" r="2.15"/><circle cx="71.11" cy="282.13" r="2.15"/><circle cx="75.41" cy="290.02" r="2.15"/><circle cx="79.43" cy="294.78" r="2.15"/><circle cx="83.44" cy="293.55" r="2.15"/><circle cx="87.45" cy="305.64" r="2.15"/><circle cx="91.46" cy="309.88" r="2.15"/><circle cx="95.47" cy="318.75" r="2.15"/><circle cx="103.49" cy="328.46" r="2.15"/><circle cx="111.51" cy="331.67" r="2.15"/><circle cx="119.53" cy="346.3" r="2.15"/><circle cx="127.55" cy="342.02" r="2.15"/><circle cx="135.57" cy="347.2" r="2.15"/><circle cx="151.62" cy="365.83" r="2.15"/><circle cx="175.68" cy="368.32" r="2.15"/></g>
<path d="M39.32 381.6 L39.35 329.44 L39.39 314.75 L39.42 306.2 L39.45 300.18 L39.49 295.55 L39.52 291.8 L39.55 288.65 L39.59 285.95 L39.62 283.58 L39.65 281.49 L39.69 279.61 L39.72 277.91 L39.75 276.36 L39.79 274.93 L39.82 273.62 L39.85 272.4 L39.89 271.27 L39.92 270.21 L39.95 269.21 L39.99 268.28 L40.02 267.4 L40.05 266.56 L40.09 265.78 L40.12 265.03 L40.65 256.73 L41.17 251.95 L41.7 248.82 L42.22 246.62 L42.75 244.99 L43.27 243.74 L43.8 242.74 L44.32 241.93 L44.85 241.25 L45.38 240.67 L45.9 240.17 L46.43 239.72 L46.95 239.32 L47.48 238.95 L48 238.61 L48.53 238.3 L49.05 238.01 L49.58 237.74 L50.11 237.49 L50.63 237.24 L51.16 237.01 L51.68 236.8 L52.21 236.59 L52.73 236.39 L53.26 236.21 L53.78 236.03 L54.31 235.86 L54.84 235.69 L55.36 235.54 L55.67 237.99 L55.98 240.31 L56.29 242.5 L56.6 244.56 L56.9 246.49 L57.21 248.28 L57.52 249.96 L57.83 251.51 L58.14 252.95 L58.45 254.29 L58.75 255.53 L59.06 256.68 L59.37 257.75 L59.68 258.74 L59.99 259.67 L60.3 260.54 L60.61 261.36 L60.91 262.13 L61.22 262.86 L61.53 263.55 L61.84 264.21 L62.15 264.85 L62.46 265.46 L62.77 266.05 L63.07 266.62 L63.38 267.18 L63.69 267.72 L64 268.25 L64.31 268.78 L64.62 269.29 L64.92 269.8 L65.23 270.3 L65.54 270.79 L65.85 271.28 L66.16 271.77 L66.47 272.25 L66.78 272.73 L67.08 273.2 L67.39 273.68 L69.6 277.03 L71.81 280.34 L74.02 283.63 L76.23 286.91 L78.44 290.17 L80.65 293.42 L82.86 296.64 L85.07 299.85 L87.28 303.03 L89.49 306.18 L91.7 309.3 L93.91 312.39 L96.12 315.43 L98.33 318.43 L100.54 321.37 L102.75 324.26 L104.96 327.08 L107.17 329.82 L109.38 332.49 L111.59 335.06 L113.8 337.54 L116.01 339.91 L118.22 342.18 L120.43 344.32 L122.64 346.35 L124.85 348.24 L127.06 350.01 L129.27 351.65 L131.48 353.17 L133.69 354.55 L135.9 355.81 L138.11 356.95 L140.32 357.98 L142.53 358.9 L144.74 359.73 L146.95 360.46 L149.16 361.11 L151.37 361.68 L153.58 362.18 L155.79 362.62 L158 363 L160.21 363.34 L162.42 363.63 L164.63 363.89 L166.84 364.11 L169.05 364.3 L171.26 364.47 L173.47 364.62 L175.68 364.74" clip-path="url(#c4)" stroke="#c4a0d4" stroke-width="1.55" fill="none" stroke-linejoin="round"/>
<path d="M29.2 228H32.5V375.6H29.2M32.5 378.9V375.6H182.5V378.9M32.5 371.34h-2.2M32.5 362.57h-2.2M32.5 356.34h-2.2M32.5 351.51h-2.2M32.5 347.56h-2.2M32.5 344.22h-2.2M32.5 341.33h-2.2M32.5 338.78h-2.2M32.5 336.5h-3M32.5 321.49h-2.2M32.5 312.72h-2.2M32.5 306.49h-2.2M32.5 301.66h-2.2M32.5 297.71h-2.2M32.5 294.37h-2.2M32.5 291.48h-2.2M32.5 288.93h-2.2M32.5 286.65h-3M32.5 271.64h-2.2M32.5 262.87h-2.2M32.5 256.64h-2.2M32.5 251.81h-2.2M32.5 247.86h-2.2M32.5 244.52h-2.2M32.5 241.63h-2.2M32.5 239.08h-2.2M32.5 236.8h-3M39.32 375.6v1.8M79.43 375.6v1.8M119.53 375.6v1.8M159.64 375.6v1.8" stroke="#8a8a8a" stroke-width="1" fill="none"/>
<g class="tk"><text x="27.7" y="338.9" text-anchor="end">1</text><text x="27.7" y="289.05" text-anchor="end">10</text><text x="27.7" y="239.2" text-anchor="end">100</text><text x="39.32" y="384.1" text-anchor="middle">0</text><text x="79.43" y="384.1" text-anchor="middle">50</text><text x="119.53" y="384.1" text-anchor="middle">100</text><text x="159.64" y="384.1" text-anchor="middle">150</text></g>
<text class="ti" x="107.5" y="218.7" text-anchor="middle">5</text>
<rect x="119.24" y="228" width="62.86" height="77.4" fill="#efebf2" filter="url(#sh)"/>
<g class="inf"><text x="122.24" y="239.3" textLength="42.57" lengthAdjust="spacingAndGlyphs">Cl = 1.47</text><text x="122.24" y="250.85" textLength="42.57" lengthAdjust="spacingAndGlyphs">V1 = 10.9</text><text x="122.24" y="262.4" textLength="42.57" lengthAdjust="spacingAndGlyphs">Q2 = 1.71</text><text x="122.24" y="273.95" textLength="42.57" lengthAdjust="spacingAndGlyphs">V2 = 17.3</text><text x="122.24" y="285.5" textLength="37.84" lengthAdjust="spacingAndGlyphs">Q3 = 1.4</text><text x="122.24" y="297.05" textLength="56.76" lengthAdjust="spacingAndGlyphs">V3 = 6.45e+3</text></g>
</g>
<g>
<rect x="215.9" y="228.4" width="148.45" height="146.4" fill="#fbfbfe"/>
<rect x="262.73" y="228.4" width="101.62" height="146.4" fill="#d3d3d5"/>
<path d="M215.9 375.23H364.35M215.9 372.95H364.35M215.9 370.9H364.35M215.9 357.44H364.35M215.9 349.57H364.35M215.9 343.99H364.35M215.9 339.66H364.35M215.9 336.12H364.35M215.9 333.12H364.35M215.9 330.53H364.35M215.9 328.25H364.35M215.9 326.2H364.35M215.9 312.74H364.35M215.9 304.87H364.35M215.9 299.29H364.35M215.9 294.96H364.35M215.9 291.42H364.35M215.9 288.42H364.35M215.9 285.83H364.35M215.9 283.55H364.35M215.9 281.5H364.35M215.9 268.04H364.35M215.9 260.17H364.35M215.9 254.59H364.35M215.9 250.26H364.35M215.9 246.72H364.35M215.9 243.72H364.35M215.9 241.13H364.35M215.9 238.85H364.35M215.9 236.8H364.35M221.82 228.4V374.8M246.39 228.4V374.8M270.96 228.4V374.8M295.53 228.4V374.8M320.1 228.4V374.8M344.67 228.4V374.8" stroke="#000" stroke-opacity="0.085" stroke-width="0.9" fill="none"/>
<clipPath id="c5"><rect x="215" y="226" width="153" height="149.6"/></clipPath>
<g fill="#4682b4"><circle cx="222.66" cy="252.9" r="2.15"/><circle cx="223.76" cy="253.17" r="2.15"/><circle cx="224.17" cy="248.77" r="2.15"/><circle cx="224.86" cy="246.02" r="2.15"/><circle cx="225.82" cy="244.64" r="2.15"/><circle cx="226.79" cy="246.71" r="2.15"/><circle cx="227.89" cy="244.64" r="2.15"/><circle cx="228.3" cy="241.2" r="2.15"/><circle cx="229.54" cy="239.41" r="2.15"/><circle cx="230.92" cy="238.86" r="2.15"/><circle cx="232.29" cy="238.45" r="2.15"/><circle cx="233.67" cy="238.04" r="2.15"/><circle cx="235.18" cy="237.49" r="2.15"/><circle cx="236.83" cy="237.21" r="2.15"/><circle cx="238.62" cy="236.94" r="2.15"/><circle cx="240.55" cy="237.35" r="2.15"/><circle cx="243.03" cy="234.32" r="2.15"/><circle cx="244.4" cy="234.05" r="2.15"/><circle cx="246.05" cy="234.32" r="2.15"/><circle cx="246.05" cy="237.76" r="2.15"/><circle cx="246.88" cy="240.93" r="2.15"/><circle cx="246.47" cy="246.02" r="2.15"/><circle cx="247.15" cy="248.77" r="2.15"/><circle cx="247.84" cy="251.52" r="2.15"/><circle cx="248.53" cy="254.27" r="2.15"/><circle cx="249.22" cy="256.34" r="2.15"/><circle cx="249.91" cy="258.4" r="2.15"/><circle cx="250.87" cy="260.47" r="2.15"/><circle cx="251.97" cy="262.53" r="2.15"/><circle cx="253.35" cy="264.59" r="2.15"/><circle cx="254.72" cy="264.87" r="2.15"/><circle cx="256.1" cy="268.72" r="2.15"/><circle cx="256.79" cy="271.47" r="2.15"/><circle cx="258.44" cy="271.47" r="2.15"/><circle cx="260.92" cy="276.02" r="2.15"/><circle cx="262.98" cy="281.11" r="2.15"/><circle cx="265.32" cy="284.27" r="2.15"/><circle cx="267.11" cy="286.61" r="2.15"/><circle cx="270.96" cy="291" r="2.15"/><circle cx="277.1" cy="293.11" r="2.15"/><circle cx="283.24" cy="301.12" r="2.15"/><circle cx="289.39" cy="310.03" r="2.15"/><circle cx="295.53" cy="318.46" r="2.15"/><circle cx="307.81" cy="332.2" r="2.15"/><circle cx="320.1" cy="342.14" r="2.15"/><circle cx="332.38" cy="350.98" r="2.15"/><circle cx="344.67" cy="358.85" r="2.15"/><circle cx="356.95" cy="365.36" r="2.15"/><circle cx="358.18" cy="368.36" r="2.15"/></g>
<path d="M221.82 381.6 L221.82 404.12 L221.87 318.23 L221.92 305.08 L221.97 297.44 L222.02 292.06 L222.07 287.93 L222.13 284.58 L222.18 281.78 L222.23 279.38 L222.28 277.29 L222.33 275.43 L222.38 273.76 L222.43 272.26 L222.48 270.89 L222.54 269.63 L222.59 268.48 L222.64 267.4 L222.69 266.41 L222.74 265.48 L222.79 264.61 L222.84 263.79 L222.89 263.02 L222.94 262.29 L223 261.6 L223.05 260.95 L223.85 253.8 L224.66 249.78 L225.46 247.2 L226.27 245.43 L227.07 244.16 L227.88 243.2 L228.68 242.45 L229.49 241.86 L230.29 241.37 L231.1 240.96 L231.9 240.6 L232.71 240.29 L233.51 240.02 L234.32 239.77 L235.12 239.54 L235.92 239.34 L236.73 239.14 L237.53 238.97 L238.34 238.8 L239.14 238.64 L239.95 238.5 L240.75 238.36 L241.56 238.23 L242.36 238.11 L243.17 237.99 L243.97 237.88 L244.78 237.78 L245.58 237.68 L246.39 237.59 L246.86 240.29 L247.33 242.86 L247.81 245.29 L248.28 247.59 L248.75 249.76 L249.22 251.78 L249.7 253.68 L250.17 255.44 L250.64 257.07 L251.11 258.59 L251.59 260 L252.06 261.31 L252.53 262.53 L253 263.66 L253.48 264.72 L253.95 265.71 L254.42 266.64 L254.89 267.52 L255.37 268.36 L255.84 269.15 L256.31 269.91 L256.78 270.64 L257.26 271.35 L257.73 272.04 L258.2 272.7 L258.67 273.35 L259.15 273.99 L259.62 274.62 L260.09 275.23 L260.56 275.84 L261.04 276.44 L261.51 277.03 L261.98 277.62 L262.45 278.21 L262.93 278.79 L263.4 279.37 L263.87 279.94 L264.34 280.51 L264.82 281.08 L266.72 283.37 L268.63 285.64 L270.53 287.89 L272.44 290.15 L274.34 292.39 L276.25 294.63 L278.15 296.87 L280.06 299.09 L281.96 301.32 L283.87 303.53 L285.78 305.74 L287.68 307.94 L289.59 310.13 L291.49 312.31 L293.4 314.48 L295.3 316.63 L297.21 318.77 L299.11 320.89 L301.02 323 L302.92 325.08 L304.83 327.14 L306.74 329.18 L308.64 331.2 L310.55 333.18 L312.45 335.13 L314.36 337.05 L316.26 338.93 L318.17 340.77 L320.07 342.56 L321.98 344.31 L323.88 346.01 L325.79 347.66 L327.69 349.26 L329.6 350.79 L331.51 352.27 L333.41 353.69 L335.32 355.04 L337.22 356.32 L339.13 357.54 L341.03 358.69 L342.94 359.78 L344.84 360.8 L346.75 361.75 L348.65 362.64 L350.56 363.46 L352.47 364.23 L354.37 364.94 L356.28 365.59 L358.18 366.19" clip-path="url(#c5)" stroke="#c4a0d4" stroke-width="1.55" fill="none" stroke-linejoin="round"/>
<path d="M211.7 228H215V375.6H211.7M215 378.9V375.6H365V378.9M215 375.23h-2.2M215 372.95h-2.2M215 370.9h-3M215 357.44h-2.2M215 349.57h-2.2M215 343.99h-2.2M215 339.66h-2.2M215 336.12h-2.2M215 333.12h-2.2M215 330.53h-2.2M215 328.25h-2.2M215 326.2h-3M215 312.74h-2.2M215 304.87h-2.2M215 299.29h-2.2M215 294.96h-2.2M215 291.42h-2.2M215 288.42h-2.2M215 285.83h-2.2M215 283.55h-2.2M215 281.5h-3M215 268.04h-2.2M215 260.17h-2.2M215 254.59h-2.2M215 250.26h-2.2M215 246.72h-2.2M215 243.72h-2.2M215 241.13h-2.2M215 238.85h-2.2M215 236.8h-3M221.82 375.6v1.8M246.39 375.6v1.8M270.96 375.6v1.8M295.53 375.6v1.8M320.1 375.6v1.8M344.67 375.6v1.8" stroke="#8a8a8a" stroke-width="1" fill="none"/>
<g class="tk"><text x="210.2" y="373.3" text-anchor="end">0.1</text><text x="210.2" y="328.6" text-anchor="end">1</text><text x="210.2" y="283.9" text-anchor="end">10</text><text x="210.2" y="239.2" text-anchor="end">100</text><text x="221.82" y="384.1" text-anchor="middle">0</text><text x="246.39" y="384.1" text-anchor="middle">20</text><text x="270.96" y="384.1" text-anchor="middle">40</text><text x="295.53" y="384.1" text-anchor="middle">60</text><text x="320.1" y="384.1" text-anchor="middle">80</text><text x="344.67" y="384.1" text-anchor="middle">100</text></g>
<text class="ti" x="290" y="218.7" text-anchor="middle">6</text>
<rect x="287.55" y="228" width="77.05" height="77.4" fill="#efebf2" filter="url(#sh)"/>
<g class="inf"><text x="290.55" y="239.3" textLength="70.95" lengthAdjust="spacingAndGlyphs">Cl = 0.00000713</text><text x="290.55" y="250.85" textLength="37.84" lengthAdjust="spacingAndGlyphs">V1 = 7.6</text><text x="290.55" y="262.4" textLength="47.3" lengthAdjust="spacingAndGlyphs">Q2 = 0.998</text><text x="290.55" y="273.95" textLength="42.57" lengthAdjust="spacingAndGlyphs">V2 = 8.86</text><text x="290.55" y="285.5" textLength="42.57" lengthAdjust="spacingAndGlyphs">Q3 = 2.62</text><text x="290.55" y="297.05" textLength="56.76" lengthAdjust="spacingAndGlyphs">V3 = 5.75e+4</text></g>
</g>
<g>
<rect x="398.4" y="228.4" width="148.45" height="146.4" fill="#fbfbfe"/>
<rect x="440.16" y="228.4" width="98.69" height="146.4" fill="#d3d3d5"/>
<path d="M398.4 365.34H546.85M398.4 354.6H546.85M398.4 346.97H546.85M398.4 341.06H546.85M398.4 336.23H546.85M398.4 332.15H546.85M398.4 328.61H546.85M398.4 325.49H546.85M398.4 322.7H546.85M398.4 304.34H546.85M398.4 293.6H546.85M398.4 285.97H546.85M398.4 280.06H546.85M398.4 275.23H546.85M398.4 271.15H546.85M398.4 267.61H546.85M398.4 264.49H546.85M398.4 261.7H546.85M398.4 243.34H546.85M398.4 232.6H546.85M404.32 228.4V374.8M425.84 228.4V374.8M447.37 228.4V374.8M468.89 228.4V374.8M490.42 228.4V374.8M511.95 228.4V374.8M533.47 228.4V374.8" stroke="#000" stroke-opacity="0.085" stroke-width="0.9" fill="none"/>
<clipPath id="c6"><rect x="397.5" y="226" width="153" height="149.6"/></clipPath>
<g fill="#4682b4"><circle cx="405.11" cy="255.93" r="2.15"/><circle cx="405.66" cy="249.46" r="2.15"/><circle cx="406.35" cy="246.71" r="2.15"/><circle cx="406.76" cy="241.89" r="2.15"/><circle cx="407.45" cy="240.51" r="2.15"/><circle cx="408.14" cy="241.2" r="2.15"/><circle cx="409.24" cy="243.95" r="2.15"/><circle cx="410.61" cy="243.95" r="2.15"/><circle cx="411.99" cy="242.99" r="2.15"/><circle cx="413.64" cy="241.89" r="2.15"/><circle cx="415.43" cy="240.79" r="2.15"/><circle cx="417.08" cy="241.2" r="2.15"/><circle cx="418.87" cy="238.45" r="2.15"/><circle cx="420.52" cy="237.49" r="2.15"/><circle cx="422.17" cy="236.8" r="2.15"/><circle cx="423.96" cy="235.7" r="2.15"/><circle cx="425.61" cy="234.6" r="2.15"/><circle cx="425.75" cy="243.95" r="2.15"/><circle cx="426.03" cy="249.46" r="2.15"/><circle cx="426.71" cy="251.52" r="2.15"/><circle cx="427.4" cy="253.59" r="2.15"/><circle cx="428.09" cy="255.37" r="2.15"/><circle cx="429.05" cy="257.3" r="2.15"/><circle cx="430.84" cy="257.44" r="2.15"/><circle cx="429.88" cy="259.09" r="2.15"/><circle cx="432.22" cy="262.53" r="2.15"/><circle cx="433.18" cy="264.59" r="2.15"/><circle cx="434.01" cy="266.66" r="2.15"/><circle cx="434.97" cy="268.72" r="2.15"/><circle cx="435.93" cy="272.44" r="2.15"/><circle cx="438" cy="279.32" r="2.15"/><circle cx="440.2" cy="282.07" r="2.15"/><circle cx="442.54" cy="286.2" r="2.15"/><circle cx="445.02" cy="284.55" r="2.15"/><circle cx="447.08" cy="287.58" r="2.15"/><circle cx="452.75" cy="297.9" r="2.15"/><circle cx="458.13" cy="300.06" r="2.15"/><circle cx="463.51" cy="309.11" r="2.15"/><circle cx="474.28" cy="322.7" r="2.15"/><circle cx="485.04" cy="334.11" r="2.15"/><circle cx="490.42" cy="342.7" r="2.15"/><circle cx="501.18" cy="354.86" r="2.15"/><circle cx="511.95" cy="368.13" r="2.15"/><circle cx="540.36" cy="362.81" r="2.15"/></g>
<path d="M404.32 381.6 L404.36 333.43 L404.41 315.75 L404.45 305.58 L404.5 298.49 L404.54 293.11 L404.59 288.79 L404.63 285.21 L404.68 282.18 L404.72 279.55 L404.77 277.25 L404.81 275.21 L404.86 273.38 L404.9 271.74 L404.95 270.25 L404.99 268.88 L405.04 267.64 L405.08 266.49 L405.13 265.42 L405.17 264.44 L405.22 263.53 L405.26 262.67 L405.3 261.88 L405.35 261.13 L405.39 260.43 L406.1 253.27 L406.8 249.71 L407.51 247.6 L408.22 246.15 L408.92 245.05 L409.63 244.14 L410.33 243.36 L411.04 242.65 L411.74 242 L412.45 241.39 L413.15 240.83 L413.86 240.3 L414.56 239.81 L415.27 239.34 L415.97 238.9 L416.68 238.49 L417.38 238.09 L418.09 237.72 L418.79 237.37 L419.5 237.04 L420.2 236.72 L420.91 236.43 L421.61 236.14 L422.32 235.87 L423.02 235.62 L423.73 235.37 L424.43 235.14 L425.14 234.92 L425.84 234.71 L426.26 240.07 L426.67 244.55 L427.09 248.21 L427.5 251.15 L427.91 253.5 L428.33 255.4 L428.74 256.94 L429.16 258.22 L429.57 259.31 L429.98 260.26 L430.4 261.12 L430.81 261.92 L431.22 262.66 L431.64 263.38 L432.05 264.07 L432.47 264.74 L432.88 265.4 L433.29 266.06 L433.71 266.71 L434.12 267.35 L434.54 267.99 L434.95 268.63 L435.36 269.27 L435.78 269.91 L436.19 270.55 L436.61 271.18 L437.02 271.82 L437.43 272.46 L437.85 273.09 L438.26 273.72 L438.68 274.36 L439.09 274.99 L439.5 275.62 L439.92 276.26 L440.33 276.89 L440.75 277.52 L441.16 278.15 L441.57 278.78 L441.99 279.41 L444 282.47 L446.02 285.51 L448.03 288.54 L450.04 291.55 L452.06 294.55 L454.07 297.52 L456.09 300.47 L458.1 303.4 L460.12 306.29 L462.13 309.16 L464.14 312 L466.16 314.79 L468.17 317.55 L470.19 320.26 L472.2 322.92 L474.21 325.53 L476.23 328.08 L478.24 330.57 L480.26 333 L482.27 335.36 L484.29 337.64 L486.3 339.84 L488.31 341.96 L490.33 344 L492.34 345.95 L494.36 347.81 L496.37 349.57 L498.38 351.25 L500.4 352.82 L502.41 354.31 L504.43 355.7 L506.44 356.99 L508.46 358.2 L510.47 359.32 L512.48 360.35 L514.5 361.3 L516.51 362.18 L518.53 362.98 L520.54 363.71 L522.55 364.38 L524.57 364.99 L526.58 365.54 L528.6 366.03 L530.61 366.48 L532.63 366.89 L534.64 367.25 L536.65 367.58 L538.67 367.88 L540.68 368.14" clip-path="url(#c6)" stroke="#c4a0d4" stroke-width="1.55" fill="none" stroke-linejoin="round"/>
<path d="M394.2 228H397.5V375.6H394.2M397.5 378.9V375.6H547.5V378.9M397.5 365.34h-2.2M397.5 354.6h-2.2M397.5 346.97h-2.2M397.5 341.06h-2.2M397.5 336.23h-2.2M397.5 332.15h-2.2M397.5 328.61h-2.2M397.5 325.49h-2.2M397.5 322.7h-3M397.5 304.34h-2.2M397.5 293.6h-2.2M397.5 285.97h-2.2M397.5 280.06h-2.2M397.5 275.23h-2.2M397.5 271.15h-2.2M397.5 267.61h-2.2M397.5 264.49h-2.2M397.5 261.7h-3M397.5 243.34h-2.2M397.5 232.6h-2.2M404.32 375.6v1.8M425.84 375.6v1.8M447.37 375.6v1.8M468.89 375.6v1.8M490.42 375.6v1.8M511.95 375.6v1.8M533.47 375.6v1.8" stroke="#8a8a8a" stroke-width="1" fill="none"/>
<g class="tk"><text x="392.7" y="325.1" text-anchor="end">1</text><text x="392.7" y="264.1" text-anchor="end">10</text><text x="404.32" y="384.1" text-anchor="middle">0</text><text x="425.84" y="384.1" text-anchor="middle">20</text><text x="447.37" y="384.1" text-anchor="middle">40</text><text x="468.89" y="384.1" text-anchor="middle">60</text><text x="490.42" y="384.1" text-anchor="middle">80</text><text x="511.95" y="384.1" text-anchor="middle">100</text><text x="533.47" y="384.1" text-anchor="middle">120</text></g>
<text class="ti" x="472.5" y="218.7" text-anchor="middle">7</text>
<rect x="470.05" y="228" width="77.05" height="77.4" fill="#efebf2" filter="url(#sh)"/>
<g class="inf"><text x="473.05" y="239.3" textLength="70.95" lengthAdjust="spacingAndGlyphs">Cl = 0.00000338</text><text x="473.05" y="250.85" textLength="42.57" lengthAdjust="spacingAndGlyphs">V1 = 7.51</text><text x="473.05" y="262.4" textLength="42.57" lengthAdjust="spacingAndGlyphs">Q2 = 3.48</text><text x="473.05" y="273.95" textLength="42.57" lengthAdjust="spacingAndGlyphs">V2 = 26.3</text><text x="473.05" y="285.5" textLength="42.57" lengthAdjust="spacingAndGlyphs">Q3 = 3.71</text><text x="473.05" y="297.05" textLength="56.76" lengthAdjust="spacingAndGlyphs">V3 = 1.46e+4</text></g>
</g>
<g>
<rect x="580.9" y="228.4" width="148.45" height="146.4" fill="#fbfbfe"/>
<rect x="624.66" y="228.4" width="104.2" height="146.4" fill="#d3d3d5"/>
<path d="M580.9 372.67H729.35M580.9 361.77H729.35M580.9 354.03H729.35M580.9 348.03H729.35M580.9 343.13H729.35M580.9 338.99H729.35M580.9 335.4H729.35M580.9 332.23H729.35M580.9 329.4H729.35M580.9 310.77H729.35M580.9 299.87H729.35M580.9 292.13H729.35M580.9 286.13H729.35M580.9 281.23H729.35M580.9 277.09H729.35M580.9 273.5H729.35M580.9 270.33H729.35M580.9 267.5H729.35M580.9 248.87H729.35M580.9 237.97H729.35M580.9 230.23H729.35M586.82 228.4V374.8M609.55 228.4V374.8M632.27 228.4V374.8M655 228.4V374.8M677.73 228.4V374.8M700.45 228.4V374.8M723.18 228.4V374.8" stroke="#000" stroke-opacity="0.085" stroke-width="0.9" fill="none"/>
<clipPath id="c7"><rect x="580" y="226" width="153" height="149.6"/></clipPath>
<g fill="#4682b4"><circle cx="587.8" cy="253.17" r="2.15"/><circle cx="588.35" cy="248.08" r="2.15"/><circle cx="589.04" cy="246.02" r="2.15"/><circle cx="589.86" cy="244.64" r="2.15"/><circle cx="590.82" cy="243.95" r="2.15"/><circle cx="591.79" cy="242.58" r="2.15"/><circle cx="592.89" cy="241.61" r="2.15"/><circle cx="594.95" cy="239.41" r="2.15"/><circle cx="596.05" cy="243.27" r="2.15"/><circle cx="597.02" cy="242.58" r="2.15"/><circle cx="598.39" cy="241.61" r="2.15"/><circle cx="599.77" cy="241.2" r="2.15"/><circle cx="601.42" cy="240.51" r="2.15"/><circle cx="603.21" cy="239.82" r="2.15"/><circle cx="604.86" cy="239.14" r="2.15"/><circle cx="606.65" cy="237.76" r="2.15"/><circle cx="608.03" cy="236.8" r="2.15"/><circle cx="609.4" cy="235.7" r="2.15"/><circle cx="609.4" cy="241.89" r="2.15"/><circle cx="609.68" cy="246.02" r="2.15"/><circle cx="610.37" cy="248.08" r="2.15"/><circle cx="611.05" cy="250.15" r="2.15"/><circle cx="611.88" cy="251.52" r="2.15"/><circle cx="612.84" cy="252.9" r="2.15"/><circle cx="613.94" cy="254.96" r="2.15"/><circle cx="614.63" cy="260.88" r="2.15"/><circle cx="615.32" cy="262.53" r="2.15"/><circle cx="616.01" cy="264.18" r="2.15"/><circle cx="616.97" cy="265.97" r="2.15"/><circle cx="617.93" cy="269.41" r="2.15"/><circle cx="618.76" cy="273.81" r="2.15"/><circle cx="619.72" cy="276.57" r="2.15"/><circle cx="620.41" cy="277.67" r="2.15"/><circle cx="622.47" cy="282.21" r="2.15"/><circle cx="624.81" cy="284.13" r="2.15"/><circle cx="627.73" cy="291.47" r="2.15"/><circle cx="630" cy="294.96" r="2.15"/><circle cx="632.27" cy="299.25" r="2.15"/><circle cx="637.95" cy="297.63" r="2.15"/><circle cx="643.64" cy="308.7" r="2.15"/><circle cx="649.32" cy="315.78" r="2.15"/><circle cx="655" cy="325.18" r="2.15"/><circle cx="660.68" cy="328.35" r="2.15"/><circle cx="666.36" cy="349.87" r="2.15"/><circle cx="677.73" cy="357.09" r="2.15"/><circle cx="689.09" cy="364.2" r="2.15"/><circle cx="700.45" cy="365.1" r="2.15"/><circle cx="723.18" cy="368.33" r="2.15"/></g>
<path d="M586.82 381.6 L586.87 342.63 L586.91 324.53 L586.96 314.06 L587.01 306.72 L587.06 301.1 L587.1 296.57 L587.15 292.8 L587.2 289.57 L587.24 286.77 L587.29 284.29 L587.34 282.08 L587.39 280.1 L587.43 278.29 L587.48 276.65 L587.53 275.14 L587.58 273.74 L587.62 272.45 L587.67 271.25 L587.72 270.13 L587.77 269.08 L587.81 268.1 L587.86 267.18 L587.91 266.31 L587.95 265.48 L588.7 256.7 L589.44 251.98 L590.19 249.03 L590.93 247.02 L591.68 245.53 L592.42 244.36 L593.17 243.39 L593.91 242.57 L594.66 241.85 L595.4 241.2 L596.14 240.6 L596.89 240.06 L597.63 239.56 L598.38 239.09 L599.12 238.65 L599.87 238.24 L600.61 237.86 L601.36 237.5 L602.1 237.16 L602.84 236.85 L603.59 236.55 L604.33 236.26 L605.08 236 L605.82 235.75 L606.57 235.51 L607.31 235.28 L608.06 235.07 L608.8 234.87 L609.55 234.68 L609.98 238.84 L610.42 242.55 L610.86 245.84 L611.29 248.73 L611.73 251.26 L612.17 253.47 L612.6 255.41 L613.04 257.12 L613.48 258.63 L613.92 259.99 L614.35 261.22 L614.79 262.35 L615.23 263.4 L615.66 264.39 L616.1 265.32 L616.54 266.22 L616.98 267.08 L617.41 267.92 L617.85 268.74 L618.29 269.54 L618.72 270.34 L619.16 271.12 L619.6 271.9 L620.03 272.67 L620.47 273.43 L620.91 274.2 L621.35 274.96 L621.78 275.71 L622.22 276.47 L622.66 277.22 L623.09 277.97 L623.53 278.73 L623.97 279.47 L624.41 280.22 L624.84 280.97 L625.28 281.72 L625.72 282.46 L626.15 283.21 L626.59 283.95 L628.56 287.3 L630.53 290.62 L632.5 293.92 L634.48 297.2 L636.45 300.46 L638.42 303.68 L640.39 306.87 L642.36 310.03 L644.33 313.14 L646.3 316.21 L648.27 319.23 L650.25 322.19 L652.22 325.1 L654.19 327.94 L656.16 330.71 L658.13 333.4 L660.1 336.01 L662.07 338.53 L664.04 340.97 L666.02 343.3 L667.99 345.53 L669.96 347.66 L671.93 349.67 L673.9 351.58 L675.87 353.37 L677.84 355.05 L679.81 356.62 L681.79 358.08 L683.76 359.43 L685.73 360.67 L687.7 361.81 L689.67 362.86 L691.64 363.81 L693.61 364.68 L695.58 365.46 L697.56 366.17 L699.53 366.81 L701.5 367.38 L703.47 367.9 L705.44 368.36 L707.41 368.77 L709.38 369.13 L711.35 369.46 L713.33 369.75 L715.3 370 L717.27 370.23 L719.24 370.43 L721.21 370.61 L723.18 370.77" clip-path="url(#c7)" stroke="#c4a0d4" stroke-width="1.55" fill="none" stroke-linejoin="round"/>
<path d="M576.7 228H580V375.6H576.7M580 378.9V375.6H730V378.9M580 372.67h-2.2M580 361.77h-2.2M580 354.03h-2.2M580 348.03h-2.2M580 343.13h-2.2M580 338.99h-2.2M580 335.4h-2.2M580 332.23h-2.2M580 329.4h-3M580 310.77h-2.2M580 299.87h-2.2M580 292.13h-2.2M580 286.13h-2.2M580 281.23h-2.2M580 277.09h-2.2M580 273.5h-2.2M580 270.33h-2.2M580 267.5h-3M580 248.87h-2.2M580 237.97h-2.2M580 230.23h-2.2M586.82 375.6v1.8M609.55 375.6v1.8M632.27 375.6v1.8M655 375.6v1.8M677.73 375.6v1.8M700.45 375.6v1.8M723.18 375.6v1.8" stroke="#8a8a8a" stroke-width="1" fill="none"/>
<g class="tk"><text x="575.2" y="331.8" text-anchor="end">1</text><text x="575.2" y="269.9" text-anchor="end">10</text><text x="586.82" y="384.1" text-anchor="middle">0</text><text x="609.55" y="384.1" text-anchor="middle">20</text><text x="632.27" y="384.1" text-anchor="middle">40</text><text x="655" y="384.1" text-anchor="middle">60</text><text x="677.73" y="384.1" text-anchor="middle">80</text><text x="700.45" y="384.1" text-anchor="middle">100</text><text x="723.18" y="384.1" text-anchor="middle">120</text></g>
<text class="ti" x="655" y="218.7" text-anchor="middle">8</text>
<rect x="666.74" y="228" width="62.86" height="77.4" fill="#efebf2" filter="url(#sh)"/>
<g class="inf"><text x="669.74" y="239.3" textLength="56.76" lengthAdjust="spacingAndGlyphs">Cl = 6.92e-7</text><text x="669.74" y="250.85" textLength="42.57" lengthAdjust="spacingAndGlyphs">V1 = 7.98</text><text x="669.74" y="262.4" textLength="42.57" lengthAdjust="spacingAndGlyphs">Q2 = 2.32</text><text x="669.74" y="273.95" textLength="33.11" lengthAdjust="spacingAndGlyphs">V2 = 16</text><text x="669.74" y="285.5" textLength="42.57" lengthAdjust="spacingAndGlyphs">Q3 = 3.05</text><text x="669.74" y="297.05" textLength="56.76" lengthAdjust="spacingAndGlyphs">V3 = 1.14e+4</text></g>
</g>
<g>
<rect x="33.4" y="408.4" width="148.45" height="146.4" fill="#fbfbfe"/>
<rect x="59.06" y="408.4" width="54.37" height="146.4" fill="#d3d3d5"/>
<path d="M33.4 548.91H181.85M33.4 541.25H181.85M33.4 535.81H181.85M33.4 531.59H181.85M33.4 528.15H181.85M33.4 525.24H181.85M33.4 522.72H181.85M33.4 520.49H181.85M33.4 518.5H181.85M33.4 505.41H181.85M33.4 497.75H181.85M33.4 492.31H181.85M33.4 488.09H181.85M33.4 484.65H181.85M33.4 481.74H181.85M33.4 479.22H181.85M33.4 476.99H181.85M33.4 475H181.85M33.4 461.91H181.85M33.4 454.25H181.85M33.4 448.81H181.85M33.4 444.59H181.85M33.4 441.15H181.85M33.4 438.24H181.85M33.4 435.72H181.85M33.4 433.49H181.85M33.4 431.5H181.85M33.4 418.41H181.85M33.4 410.75H181.85M39.32 408.4V554.8M68.96 408.4V554.8M98.61 408.4V554.8M128.25 408.4V554.8M157.9 408.4V554.8" stroke="#000" stroke-opacity="0.085" stroke-width="0.9" fill="none"/>
<clipPath id="c8"><rect x="32.5" y="406" width="153" height="149.6"/></clipPath>
<g fill="#4682b4"><circle cx="39.71" cy="435.4" r="2.15"/><circle cx="39.71" cy="427.69" r="2.15"/><circle cx="40.12" cy="426.04" r="2.15"/><circle cx="40.67" cy="423.97" r="2.15"/><circle cx="41.09" cy="422.6" r="2.15"/><circle cx="41.77" cy="418.88" r="2.15"/><circle cx="42.46" cy="421.22" r="2.15"/><circle cx="43.15" cy="419.84" r="2.15"/><circle cx="44.12" cy="418.46" r="2.15"/><circle cx="45.22" cy="417.36" r="2.15"/><circle cx="46.32" cy="416.67" r="2.15"/><circle cx="47.56" cy="415.98" r="2.15"/><circle cx="48.66" cy="415.29" r="2.15"/><circle cx="49.76" cy="414.61" r="2.15"/><circle cx="50.73" cy="413.92" r="2.15"/><circle cx="51.42" cy="417.77" r="2.15"/><circle cx="50.73" cy="424.66" r="2.15"/><circle cx="51.14" cy="426.73" r="2.15"/><circle cx="51.69" cy="428.79" r="2.15"/><circle cx="52.1" cy="430.86" r="2.15"/><circle cx="52.52" cy="432.65" r="2.15"/><circle cx="53.21" cy="434.58" r="2.15"/><circle cx="54.17" cy="436.37" r="2.15"/><circle cx="55.55" cy="441.47" r="2.15"/><circle cx="56.24" cy="442.84" r="2.15"/><circle cx="56.65" cy="445.32" r="2.15"/><circle cx="57.34" cy="448.08" r="2.15"/><circle cx="58.99" cy="448.77" r="2.15"/><circle cx="59.96" cy="453.59" r="2.15"/><circle cx="61.06" cy="456.62" r="2.15"/><circle cx="62.44" cy="460.75" r="2.15"/><circle cx="65.19" cy="466.26" r="2.15"/><circle cx="68.96" cy="472.86" r="2.15"/><circle cx="71.93" cy="482.62" r="2.15"/><circle cx="74.89" cy="488.67" r="2.15"/><circle cx="77.86" cy="493.28" r="2.15"/><circle cx="80.82" cy="498.26" r="2.15"/><circle cx="86.75" cy="505.5" r="2.15"/><circle cx="92.68" cy="511.35" r="2.15"/><circle cx="98.61" cy="519.27" r="2.15"/><circle cx="104.54" cy="522.6" r="2.15"/><circle cx="110.46" cy="527.23" r="2.15"/><circle cx="122.32" cy="529.12" r="2.15"/><circle cx="140.11" cy="531.59" r="2.15"/><circle cx="157.9" cy="545.23" r="2.15"/><circle cx="175.68" cy="548.53" r="2.15"/></g>
<path d="M39.32 561.6 L39.32 581.1 L39.34 497.48 L39.37 484.65 L39.39 477.17 L39.42 471.91 L39.44 467.85 L39.47 464.57 L39.49 461.81 L39.52 459.44 L39.54 457.36 L39.57 455.52 L39.59 453.87 L39.61 452.37 L39.64 451.01 L39.66 449.76 L39.69 448.6 L39.71 447.52 L39.74 446.52 L39.76 445.59 L39.79 444.71 L39.81 443.88 L39.84 443.1 L39.86 442.36 L39.89 441.66 L39.91 441 L40.3 433.61 L40.69 429.31 L41.08 426.47 L41.46 424.47 L41.85 422.98 L42.24 421.84 L42.63 420.94 L43.02 420.21 L43.41 419.61 L43.8 419.1 L44.18 418.66 L44.57 418.28 L44.96 417.95 L45.35 417.64 L45.74 417.37 L46.13 417.12 L46.51 416.89 L46.9 416.68 L47.29 416.48 L47.68 416.3 L48.07 416.13 L48.46 415.96 L48.85 415.81 L49.23 415.66 L49.62 415.53 L50.01 415.39 L50.4 415.27 L50.79 415.15 L51.18 415.04 L51.4 417.15 L51.63 419.17 L51.86 421.1 L52.09 422.94 L52.32 424.69 L52.54 426.35 L52.77 427.92 L53 429.41 L53.23 430.81 L53.46 432.13 L53.68 433.37 L53.91 434.53 L54.14 435.63 L54.37 436.67 L54.6 437.64 L54.82 438.56 L55.05 439.43 L55.28 440.26 L55.51 441.04 L55.74 441.79 L55.96 442.5 L56.19 443.18 L56.42 443.84 L56.65 444.48 L56.88 445.09 L57.1 445.69 L57.33 446.26 L57.56 446.83 L57.79 447.38 L58.02 447.92 L58.24 448.45 L58.47 448.97 L58.7 449.49 L58.93 450 L59.16 450.5 L59.39 451 L59.61 451.49 L59.84 451.98 L60.07 452.46 L62.43 457.36 L64.79 462.15 L67.15 466.89 L69.51 471.6 L71.87 476.27 L74.23 480.89 L76.59 485.45 L78.94 489.93 L81.3 494.32 L83.66 498.58 L86.02 502.71 L88.38 506.66 L90.74 510.41 L93.1 513.92 L95.46 517.18 L97.82 520.15 L100.18 522.82 L102.54 525.18 L104.9 527.23 L107.26 528.99 L109.62 530.47 L111.98 531.7 L114.34 532.72 L116.7 533.54 L119.06 534.2 L121.41 534.73 L123.77 535.15 L126.13 535.48 L128.49 535.74 L130.85 535.94 L133.21 536.1 L135.57 536.22 L137.93 536.32 L140.29 536.4 L142.65 536.45 L145.01 536.5 L147.37 536.54 L149.73 536.56 L152.09 536.58 L154.45 536.6 L156.81 536.61 L159.17 536.62 L161.53 536.63 L163.88 536.64 L166.24 536.64 L168.6 536.64 L170.96 536.65 L173.32 536.65 L175.68 536.65" clip-path="url(#c8)" stroke="#c4a0d4" stroke-width="1.55" fill="none" stroke-linejoin="round"/>
<path d="M29.2 408H32.5V555.6H29.2M32.5 558.9V555.6H182.5V558.9M32.5 548.91h-2.2M32.5 541.25h-2.2M32.5 535.81h-2.2M32.5 531.59h-2.2M32.5 528.15h-2.2M32.5 525.24h-2.2M32.5 522.72h-2.2M32.5 520.49h-2.2M32.5 518.5h-3M32.5 505.41h-2.2M32.5 497.75h-2.2M32.5 492.31h-2.2M32.5 488.09h-2.2M32.5 484.65h-2.2M32.5 481.74h-2.2M32.5 479.22h-2.2M32.5 476.99h-2.2M32.5 475h-3M32.5 461.91h-2.2M32.5 454.25h-2.2M32.5 448.81h-2.2M32.5 444.59h-2.2M32.5 441.15h-2.2M32.5 438.24h-2.2M32.5 435.72h-2.2M32.5 433.49h-2.2M32.5 431.5h-3M32.5 418.41h-2.2M32.5 410.75h-2.2M39.32 555.6v1.8M68.96 555.6v1.8M98.61 555.6v1.8M128.25 555.6v1.8M157.9 555.6v1.8" stroke="#8a8a8a" stroke-width="1" fill="none"/>
<g class="tk"><text x="27.7" y="520.9" text-anchor="end">1</text><text x="27.7" y="477.4" text-anchor="end">10</text><text x="27.7" y="433.9" text-anchor="end">100</text><text x="39.32" y="564.1" text-anchor="middle">0</text><text x="68.96" y="564.1" text-anchor="middle">50</text><text x="98.61" y="564.1" text-anchor="middle">100</text><text x="128.25" y="564.1" text-anchor="middle">150</text><text x="157.9" y="564.1" text-anchor="middle">200</text></g>
<text class="ti" x="107.5" y="398.7" text-anchor="middle">9</text>
<rect x="114.51" y="408" width="67.59" height="77.4" fill="#efebf2" filter="url(#sh)"/>
<g class="inf"><text x="117.51" y="419.3" textLength="61.49" lengthAdjust="spacingAndGlyphs">Cl = 5.06e-16</text><text x="117.51" y="430.85" textLength="42.57" lengthAdjust="spacingAndGlyphs">V1 = 9.28</text><text x="117.51" y="442.4" textLength="37.84" lengthAdjust="spacingAndGlyphs">Q2 = 1.1</text><text x="117.51" y="453.95" textLength="42.57" lengthAdjust="spacingAndGlyphs">V2 = 10.8</text><text x="117.51" y="465.5" textLength="42.57" lengthAdjust="spacingAndGlyphs">Q3 = 2.49</text><text x="117.51" y="477.05" textLength="56.76" lengthAdjust="spacingAndGlyphs">V3 = 3.53e+4</text></g>
</g>
<g>
<rect x="215.9" y="408.4" width="148.45" height="146.4" fill="#fbfbfe"/>
<rect x="248.53" y="408.4" width="73.56" height="146.4" fill="#d3d3d5"/>
<path d="M215.9 555.52H364.35M215.9 553.45H364.35M215.9 551.6H364.35M215.9 539.41H364.35M215.9 532.28H364.35M215.9 527.22H364.35M215.9 523.29H364.35M215.9 520.08H364.35M215.9 517.37H364.35M215.9 515.02H364.35M215.9 512.95H364.35M215.9 511.1H364.35M215.9 498.91H364.35M215.9 491.78H364.35M215.9 486.72H364.35M215.9 482.79H364.35M215.9 479.58H364.35M215.9 476.87H364.35M215.9 474.52H364.35M215.9 472.45H364.35M215.9 470.6H364.35M215.9 458.41H364.35M215.9 451.28H364.35M215.9 446.22H364.35M215.9 442.29H364.35M215.9 439.08H364.35M215.9 436.37H364.35M215.9 434.02H364.35M215.9 431.95H364.35M215.9 430.1H364.35M215.9 417.91H364.35M215.9 410.78H364.35M221.82 408.4V554.8M261.93 408.4V554.8M302.03 408.4V554.8M342.14 408.4V554.8" stroke="#000" stroke-opacity="0.085" stroke-width="0.9" fill="none"/>
<clipPath id="c9"><rect x="215" y="406" width="153" height="149.6"/></clipPath>
<g fill="#4682b4"><circle cx="221.7" cy="428.08" r="2.15"/><circle cx="222.38" cy="426.71" r="2.15"/><circle cx="223.07" cy="425.33" r="2.15"/><circle cx="223.76" cy="423.95" r="2.15"/><circle cx="224.45" cy="422.58" r="2.15"/><circle cx="225.41" cy="421.2" r="2.15"/><circle cx="226.51" cy="419.41" r="2.15"/><circle cx="227.61" cy="418.86" r="2.15"/><circle cx="228.85" cy="417.76" r="2.15"/><circle cx="230.23" cy="416.66" r="2.15"/><circle cx="231.74" cy="415.7" r="2.15"/><circle cx="233.39" cy="414.32" r="2.15"/><circle cx="234.77" cy="413.91" r="2.15"/><circle cx="236.15" cy="413.91" r="2.15"/><circle cx="237.52" cy="414.32" r="2.15"/><circle cx="237.52" cy="417.76" r="2.15"/><circle cx="238.21" cy="421.2" r="2.15"/><circle cx="238.9" cy="423.27" r="2.15"/><circle cx="239.59" cy="425.33" r="2.15"/><circle cx="240.55" cy="427.39" r="2.15"/><circle cx="241.37" cy="429.46" r="2.15"/><circle cx="242.34" cy="431.52" r="2.15"/><circle cx="243.3" cy="433.59" r="2.15"/><circle cx="244.4" cy="435.93" r="2.15"/><circle cx="245.78" cy="437.71" r="2.15"/><circle cx="246.88" cy="441.84" r="2.15"/><circle cx="248.26" cy="445.01" r="2.15"/><circle cx="249.91" cy="447.76" r="2.15"/><circle cx="251.28" cy="449.41" r="2.15"/><circle cx="253.07" cy="453.81" r="2.15"/><circle cx="257.91" cy="460.07" r="2.15"/><circle cx="261.93" cy="467.1" r="2.15"/><circle cx="265.94" cy="473.81" r="2.15"/><circle cx="269.95" cy="479.58" r="2.15"/><circle cx="273.96" cy="488.57" r="2.15"/><circle cx="277.97" cy="494.5" r="2.15"/><circle cx="285.99" cy="501.36" r="2.15"/><circle cx="294.01" cy="514.5" r="2.15"/><circle cx="302.03" cy="520.2" r="2.15"/><circle cx="310.05" cy="527.44" r="2.15"/><circle cx="318.07" cy="531.53" r="2.15"/><circle cx="334.12" cy="537.41" r="2.15"/><circle cx="358.18" cy="548.25" r="2.15"/></g>
<path d="M221.82 561.6 L221.82 566.65 L221.85 488.85 L221.89 476.97 L221.92 470.07 L221.95 465.22 L221.99 461.5 L222.02 458.5 L222.05 455.98 L222.09 453.83 L222.12 451.95 L222.15 450.29 L222.19 448.81 L222.22 447.46 L222.25 446.24 L222.29 445.13 L222.32 444.1 L222.35 443.15 L222.39 442.26 L222.42 441.44 L222.45 440.67 L222.49 439.95 L222.52 439.26 L222.55 438.62 L222.59 438.02 L222.62 437.44 L223.15 431.17 L223.67 427.65 L224.2 425.37 L224.72 423.76 L225.25 422.55 L225.77 421.59 L226.3 420.81 L226.82 420.14 L227.35 419.56 L227.88 419.04 L228.4 418.58 L228.93 418.15 L229.45 417.77 L229.98 417.41 L230.5 417.07 L231.03 416.77 L231.55 416.48 L232.08 416.21 L232.61 415.96 L233.13 415.72 L233.66 415.5 L234.18 415.29 L234.71 415.09 L235.23 414.9 L235.76 414.73 L236.28 414.57 L236.81 414.41 L237.34 414.26 L237.86 414.12 L238.17 416.26 L238.48 418.21 L238.79 419.97 L239.1 421.56 L239.4 422.99 L239.71 424.27 L240.02 425.44 L240.33 426.49 L240.64 427.45 L240.95 428.33 L241.25 429.15 L241.56 429.91 L241.87 430.62 L242.18 431.3 L242.49 431.94 L242.8 432.56 L243.11 433.15 L243.41 433.73 L243.72 434.3 L244.03 434.85 L244.34 435.4 L244.65 435.93 L244.96 436.46 L245.27 436.99 L245.57 437.51 L245.88 438.03 L246.19 438.55 L246.5 439.06 L246.81 439.57 L247.12 440.08 L247.42 440.59 L247.73 441.1 L248.04 441.61 L248.35 442.12 L248.66 442.62 L248.97 443.13 L249.28 443.64 L249.58 444.14 L249.89 444.65 L252.1 448.26 L254.31 451.87 L256.52 455.47 L258.73 459.07 L260.94 462.66 L263.15 466.24 L265.36 469.81 L267.57 473.36 L269.78 476.9 L271.99 480.42 L274.2 483.91 L276.41 487.37 L278.62 490.8 L280.83 494.18 L283.04 497.51 L285.25 500.78 L287.46 503.97 L289.67 507.08 L291.88 510.1 L294.09 512.99 L296.3 515.77 L298.51 518.39 L300.72 520.87 L302.93 523.17 L305.14 525.3 L307.35 527.24 L309.56 529 L311.77 530.57 L313.98 531.96 L316.19 533.18 L318.4 534.24 L320.61 535.15 L322.82 535.92 L325.03 536.58 L327.24 537.14 L329.45 537.61 L331.66 537.99 L333.87 538.32 L336.08 538.58 L338.29 538.81 L340.5 538.99 L342.71 539.14 L344.92 539.26 L347.13 539.36 L349.34 539.45 L351.55 539.52 L353.76 539.57 L355.97 539.62 L358.18 539.66" clip-path="url(#c9)" stroke="#c4a0d4" stroke-width="1.55" fill="none" stroke-linejoin="round"/>
<path d="M211.7 408H215V555.6H211.7M215 558.9V555.6H365V558.9M215 555.52h-2.2M215 553.45h-2.2M215 551.6h-3M215 539.41h-2.2M215 532.28h-2.2M215 527.22h-2.2M215 523.29h-2.2M215 520.08h-2.2M215 517.37h-2.2M215 515.02h-2.2M215 512.95h-2.2M215 511.1h-3M215 498.91h-2.2M215 491.78h-2.2M215 486.72h-2.2M215 482.79h-2.2M215 479.58h-2.2M215 476.87h-2.2M215 474.52h-2.2M215 472.45h-2.2M215 470.6h-3M215 458.41h-2.2M215 451.28h-2.2M215 446.22h-2.2M215 442.29h-2.2M215 439.08h-2.2M215 436.37h-2.2M215 434.02h-2.2M215 431.95h-2.2M215 430.1h-3M215 417.91h-2.2M215 410.78h-2.2M221.82 555.6v1.8M261.93 555.6v1.8M302.03 555.6v1.8M342.14 555.6v1.8" stroke="#8a8a8a" stroke-width="1" fill="none"/>
<g class="tk"><text x="210.2" y="554" text-anchor="end">0.1</text><text x="210.2" y="513.5" text-anchor="end">1</text><text x="210.2" y="473" text-anchor="end">10</text><text x="210.2" y="432.5" text-anchor="end">100</text><text x="221.82" y="564.1" text-anchor="middle">0</text><text x="261.93" y="564.1" text-anchor="middle">50</text><text x="302.03" y="564.1" text-anchor="middle">100</text><text x="342.14" y="564.1" text-anchor="middle">150</text></g>
<text class="ti" x="290" y="398.7" text-anchor="middle">10</text>
<rect x="301.74" y="408" width="62.86" height="77.4" fill="#efebf2" filter="url(#sh)"/>
<g class="inf"><text x="304.74" y="419.3" textLength="42.57" lengthAdjust="spacingAndGlyphs">Cl = 1.66</text><text x="304.74" y="430.85" textLength="42.57" lengthAdjust="spacingAndGlyphs">V1 = 9.47</text><text x="304.74" y="442.4" textLength="42.57" lengthAdjust="spacingAndGlyphs">Q2 = 2.38</text><text x="304.74" y="453.95" textLength="42.57" lengthAdjust="spacingAndGlyphs">V2 = 14.9</text><text x="304.74" y="465.5" textLength="42.57" lengthAdjust="spacingAndGlyphs">Q3 = 1.15</text><text x="304.74" y="477.05" textLength="56.76" lengthAdjust="spacingAndGlyphs">V3 = 1.37e+4</text></g>
</g>
<g>
<rect x="398.4" y="408.4" width="148.45" height="146.4" fill="#fbfbfe"/>
<rect x="507.05" y="408.4" width="39.8" height="146.4" fill="#d3d3d5"/>
<path d="M398.4 532.7H546.85M398.4 517.79H546.85M398.4 507.21H546.85M398.4 499H546.85M398.4 492.29H546.85M398.4 486.62H546.85M398.4 481.71H546.85M398.4 477.38H546.85M398.4 473.5H546.85M398.4 448H546.85M398.4 433.09H546.85M398.4 422.51H546.85M398.4 414.3H546.85M404.32 408.4V554.8M435.17 408.4V554.8M466.02 408.4V554.8M496.87 408.4V554.8M527.72 408.4V554.8" stroke="#000" stroke-opacity="0.085" stroke-width="0.9" fill="none"/>
<clipPath id="c10"><rect x="397.5" y="406" width="153" height="149.6"/></clipPath>
<g fill="#4682b4"><circle cx="408.24" cy="439.5" r="2.15"/><circle cx="409.56" cy="433.58" r="2.15"/><circle cx="411.72" cy="429.58" r="2.15"/><circle cx="412.96" cy="439.5" r="2.15"/><circle cx="415.12" cy="429.47" r="2.15"/><circle cx="416.2" cy="424.1" r="2.15"/><circle cx="417.89" cy="422.6" r="2.15"/><circle cx="419.74" cy="421.6" r="2.15"/><circle cx="422.21" cy="420.54" r="2.15"/><circle cx="425.3" cy="429.03" r="2.15"/><circle cx="428.69" cy="430.14" r="2.15"/><circle cx="431.78" cy="421.6" r="2.15"/><circle cx="434.86" cy="420.28" r="2.15"/><circle cx="441.03" cy="415.95" r="2.15"/><circle cx="446.89" cy="419.85" r="2.15"/><circle cx="448.74" cy="419.42" r="2.15"/><circle cx="450.6" cy="424.59" r="2.15"/><circle cx="451.83" cy="432.84" r="2.15"/><circle cx="453.37" cy="437.65" r="2.15"/><circle cx="454.91" cy="443.83" r="2.15"/><circle cx="456.46" cy="446.74" r="2.15"/><circle cx="458" cy="448.37" r="2.15"/><circle cx="459.85" cy="450.08" r="2.15"/><circle cx="461.39" cy="452.29" r="2.15"/><circle cx="462.94" cy="455.98" r="2.15"/><circle cx="466.02" cy="461.12" r="2.15"/><circle cx="468.8" cy="468.04" r="2.15"/><circle cx="472.19" cy="471.01" r="2.15"/><circle cx="475.28" cy="474.81" r="2.15"/><circle cx="478.36" cy="481.71" r="2.15"/><circle cx="484.53" cy="485.08" r="2.15"/><circle cx="490.7" cy="494.5" r="2.15"/><circle cx="496.87" cy="506.12" r="2.15"/><circle cx="503.04" cy="513.29" r="2.15"/><circle cx="509.21" cy="516.94" r="2.15"/><circle cx="524.64" cy="531.62" r="2.15"/><circle cx="540.06" cy="548.27" r="2.15"/></g>
<path d="M404.32 561.6 L404.45 557.2 L404.58 532.54 L404.71 518.3 L404.83 508.36 L404.96 500.77 L405.09 494.67 L405.22 489.59 L405.35 485.27 L405.48 481.52 L405.6 478.21 L405.73 475.28 L405.86 472.64 L405.99 470.25 L406.12 468.07 L406.25 466.08 L406.38 464.24 L406.5 462.55 L406.63 460.97 L406.76 459.5 L406.89 458.13 L407.02 456.85 L407.15 455.65 L407.27 454.51 L407.4 453.44 L408.77 444.95 L410.13 439.57 L411.49 435.82 L412.85 433.02 L414.21 430.81 L415.57 429 L416.94 427.47 L418.3 426.14 L419.66 424.96 L421.02 423.91 L422.38 422.96 L423.74 422.09 L425.11 421.29 L426.47 420.55 L427.83 419.87 L429.19 419.24 L430.55 418.65 L431.91 418.1 L433.28 417.59 L434.64 417.11 L436 416.66 L437.36 416.24 L438.72 415.84 L440.08 415.47 L441.45 415.13 L442.81 414.8 L444.17 414.49 L445.53 414.2 L446.89 413.93 L448.08 420.19 L449.27 425.59 L450.45 430.22 L451.64 434.21 L452.83 437.66 L454.01 440.68 L455.2 443.37 L456.39 445.81 L457.57 448.05 L458.76 450.15 L459.95 452.14 L461.13 454.04 L462.32 455.89 L463.51 457.69 L464.69 459.46 L465.88 461.2 L467.07 462.92 L468.25 464.63 L469.44 466.32 L470.63 468 L471.81 469.68 L473 471.34 L474.18 473 L475.37 474.65 L476.56 476.29 L477.74 477.92 L478.93 479.55 L480.12 481.17 L481.3 482.79 L482.49 484.39 L483.68 485.99 L484.86 487.58 L486.05 489.16 L487.24 490.74 L488.42 492.3 L489.61 493.86 L490.8 495.41 L491.98 496.94 L493.17 498.47 L494.14 499.71 L495.11 500.94 L496.08 502.17 L497.05 503.39 L498.02 504.6 L498.99 505.8 L499.96 506.99 L500.93 508.18 L501.9 509.35 L502.87 510.52 L503.84 511.68 L504.81 512.83 L505.78 513.97 L506.75 515.1 L507.71 516.22 L508.68 517.34 L509.65 518.44 L510.62 519.53 L511.59 520.61 L512.56 521.68 L513.53 522.73 L514.5 523.78 L515.47 524.81 L516.44 525.84 L517.41 526.85 L518.38 527.85 L519.35 528.84 L520.32 529.81 L521.29 530.77 L522.26 531.72 L523.23 532.66 L524.2 533.58 L525.17 534.49 L526.14 535.39 L527.11 536.27 L528.08 537.14 L529.05 538 L530.02 538.84 L530.99 539.67 L531.96 540.48 L532.92 541.29 L533.89 542.07 L534.86 542.85 L535.83 543.6 L536.8 544.35 L537.77 545.08 L538.74 545.8 L539.71 546.5 L540.68 547.19" clip-path="url(#c10)" stroke="#c4a0d4" stroke-width="1.55" fill="none" stroke-linejoin="round"/>
<path d="M394.2 408H397.5V555.6H394.2M397.5 558.9V555.6H547.5V558.9M397.5 532.7h-2.2M397.5 517.79h-2.2M397.5 507.21h-2.2M397.5 499h-2.2M397.5 492.29h-2.2M397.5 486.62h-2.2M397.5 481.71h-2.2M397.5 477.38h-2.2M397.5 473.5h-3M397.5 448h-2.2M397.5 433.09h-2.2M397.5 422.51h-2.2M397.5 414.3h-2.2M404.32 555.6v1.8M435.17 555.6v1.8M466.02 555.6v1.8M496.87 555.6v1.8M527.72 555.6v1.8" stroke="#8a8a8a" stroke-width="1" fill="none"/>
<g class="tk"><text x="392.7" y="475.9" text-anchor="end">10</text><text x="404.32" y="564.1" text-anchor="middle">0</text><text x="435.17" y="564.1" text-anchor="middle">10</text><text x="466.02" y="564.1" text-anchor="middle">20</text><text x="496.87" y="564.1" text-anchor="middle">30</text><text x="527.72" y="564.1" text-anchor="middle">40</text></g>
<text class="ti" x="472.5" y="398.7" text-anchor="middle">11</text>
<rect x="488.97" y="408" width="58.13" height="77.4" fill="#efebf2" filter="url(#sh)"/>
<g class="inf"><text x="491.97" y="419.3" textLength="42.57" lengthAdjust="spacingAndGlyphs">Cl = 1.64</text><text x="491.97" y="430.85" textLength="42.57" lengthAdjust="spacingAndGlyphs">V1 = 8.13</text><text x="491.97" y="442.4" textLength="42.57" lengthAdjust="spacingAndGlyphs">Q2 = 3.03</text><text x="491.97" y="453.95" textLength="42.57" lengthAdjust="spacingAndGlyphs">V2 = 11.1</text><text x="491.97" y="465.5" textLength="42.57" lengthAdjust="spacingAndGlyphs">Q3 = 1.93</text><text x="491.97" y="477.05" textLength="52.03" lengthAdjust="spacingAndGlyphs">V3 = 1.1e+3</text></g>
</g>
<g>
<rect x="580.9" y="408.4" width="148.45" height="146.4" fill="#fbfbfe"/>
<rect x="628.1" y="408.4" width="101.25" height="146.4" fill="#d3d3d5"/>
<path d="M580.9 554.16H729.35M580.9 552H729.35M580.9 537.82H729.35M580.9 529.53H729.35M580.9 523.64H729.35M580.9 519.08H729.35M580.9 515.35H729.35M580.9 512.2H729.35M580.9 509.46H729.35M580.9 507.06H729.35M580.9 504.9H729.35M580.9 490.72H729.35M580.9 482.43H729.35M580.9 476.54H729.35M580.9 471.98H729.35M580.9 468.25H729.35M580.9 465.1H729.35M580.9 462.36H729.35M580.9 459.96H729.35M580.9 457.8H729.35M580.9 443.62H729.35M580.9 435.33H729.35M580.9 429.44H729.35M580.9 424.88H729.35M580.9 421.15H729.35M580.9 418H729.35M580.9 415.26H729.35M580.9 412.86H729.35M580.9 410.7H729.35M586.82 408.4V554.8M611.61 408.4V554.8M636.4 408.4V554.8M661.2 408.4V554.8M685.99 408.4V554.8M710.79 408.4V554.8" stroke="#000" stroke-opacity="0.085" stroke-width="0.9" fill="none"/>
<clipPath id="c11"><rect x="580" y="406" width="153" height="149.6"/></clipPath>
<g fill="#4682b4"><circle cx="588.43" cy="439.06" r="2.15"/><circle cx="588.68" cy="427.03" r="2.15"/><circle cx="589.79" cy="425.5" r="2.15"/><circle cx="591.78" cy="419.51" r="2.15"/><circle cx="592.15" cy="424.88" r="2.15"/><circle cx="593.88" cy="421.49" r="2.15"/><circle cx="595.99" cy="418" r="2.15"/><circle cx="597.73" cy="414.02" r="2.15"/><circle cx="600.45" cy="417.71" r="2.15"/><circle cx="600.95" cy="423.08" r="2.15"/><circle cx="600.7" cy="429.65" r="2.15"/><circle cx="602.07" cy="432.41" r="2.15"/><circle cx="603.43" cy="431.71" r="2.15"/><circle cx="603.68" cy="436.52" r="2.15"/><circle cx="604.79" cy="437.94" r="2.15"/><circle cx="605.04" cy="440.76" r="2.15"/><circle cx="605.91" cy="444.78" r="2.15"/><circle cx="608.26" cy="447.56" r="2.15"/><circle cx="609.63" cy="451.66" r="2.15"/><circle cx="611.24" cy="453.07" r="2.15"/><circle cx="613.6" cy="458.3" r="2.15"/><circle cx="616.07" cy="461.71" r="2.15"/><circle cx="618.8" cy="464.81" r="2.15"/><circle cx="621.16" cy="470.79" r="2.15"/><circle cx="624.01" cy="472.18" r="2.15"/><circle cx="626.49" cy="478.7" r="2.15"/><circle cx="636.4" cy="491.34" r="2.15"/><circle cx="642.6" cy="501.51" r="2.15"/><circle cx="648.8" cy="506.83" r="2.15"/><circle cx="655" cy="508.96" r="2.15"/><circle cx="661.2" cy="516.04" r="2.15"/><circle cx="673.6" cy="523.64" r="2.15"/><circle cx="685.99" cy="529.19" r="2.15"/><circle cx="698.39" cy="537.42" r="2.15"/><circle cx="710.79" cy="544.83" r="2.15"/><circle cx="723.18" cy="547.77" r="2.15"/></g>
<path d="M586.82 561.6 L586.82 594.94 L586.87 504.37 L586.92 490.45 L586.97 482.33 L587.03 476.59 L587.08 472.18 L587.13 468.59 L587.18 465.57 L587.23 462.98 L587.28 460.7 L587.34 458.68 L587.39 456.86 L587.44 455.21 L587.49 453.71 L587.54 452.32 L587.59 451.04 L587.64 449.85 L587.7 448.74 L587.75 447.7 L587.8 446.72 L587.85 445.8 L587.9 444.93 L587.95 444.1 L588.01 443.32 L588.06 442.57 L588.43 438.14 L588.79 434.79 L589.16 432.15 L589.53 429.99 L589.9 428.19 L590.26 426.67 L590.63 425.37 L591 424.24 L591.37 423.26 L591.73 422.39 L592.1 421.61 L592.47 420.93 L592.84 420.31 L593.2 419.75 L593.57 419.25 L593.94 418.79 L594.31 418.37 L594.68 417.99 L595.04 417.64 L595.41 417.32 L595.78 417.02 L596.15 416.74 L596.51 416.49 L596.88 416.25 L597.25 416.02 L597.62 415.82 L597.98 415.62 L598.35 415.44 L598.72 415.26 L599.2 417.44 L599.67 419.56 L600.15 421.64 L600.63 423.67 L601.1 425.64 L601.58 427.57 L602.06 429.44 L602.53 431.25 L603.01 433.01 L603.49 434.72 L603.96 436.36 L604.44 437.95 L604.92 439.49 L605.39 440.97 L605.87 442.39 L606.35 443.77 L606.82 445.09 L607.3 446.36 L607.78 447.58 L608.25 448.76 L608.73 449.89 L609.21 450.99 L609.69 452.04 L610.16 453.06 L610.64 454.04 L611.12 454.99 L611.59 455.91 L612.07 456.81 L612.55 457.67 L613.02 458.52 L613.5 459.34 L613.98 460.14 L614.45 460.92 L614.93 461.68 L615.41 462.43 L615.88 463.16 L616.36 463.88 L616.84 464.59 L617.31 465.29 L619.47 468.33 L621.64 471.24 L623.8 474.05 L625.96 476.8 L628.12 479.51 L630.28 482.18 L632.44 484.82 L634.6 487.43 L636.76 490.02 L638.92 492.59 L641.08 495.13 L643.24 497.63 L645.4 500.11 L647.56 502.55 L649.72 504.95 L651.88 507.3 L654.04 509.61 L656.2 511.87 L658.36 514.07 L660.53 516.21 L662.69 518.28 L664.85 520.28 L667.01 522.2 L669.17 524.04 L671.33 525.8 L673.49 527.48 L675.65 529.06 L677.81 530.55 L679.97 531.96 L682.13 533.26 L684.29 534.48 L686.45 535.61 L688.61 536.64 L690.77 537.6 L692.93 538.47 L695.09 539.26 L697.26 539.98 L699.42 540.63 L701.58 541.21 L703.74 541.74 L705.9 542.21 L708.06 542.63 L710.22 543 L712.38 543.34 L714.54 543.63 L716.7 543.9 L718.86 544.13 L721.02 544.33 L723.18 544.51" clip-path="url(#c11)" stroke="#c4a0d4" stroke-width="1.55" fill="none" stroke-linejoin="round"/>
<path d="M576.7 408H580V555.6H576.7M580 558.9V555.6H730V558.9M580 554.16h-2.2M580 552h-3M580 537.82h-2.2M580 529.53h-2.2M580 523.64h-2.2M580 519.08h-2.2M580 515.35h-2.2M580 512.2h-2.2M580 509.46h-2.2M580 507.06h-2.2M580 504.9h-3M580 490.72h-2.2M580 482.43h-2.2M580 476.54h-2.2M580 471.98h-2.2M580 468.25h-2.2M580 465.1h-2.2M580 462.36h-2.2M580 459.96h-2.2M580 457.8h-3M580 443.62h-2.2M580 435.33h-2.2M580 429.44h-2.2M580 424.88h-2.2M580 421.15h-2.2M580 418h-2.2M580 415.26h-2.2M580 412.86h-2.2M580 410.7h-3M586.82 555.6v1.8M611.61 555.6v1.8M636.4 555.6v1.8M661.2 555.6v1.8M685.99 555.6v1.8M710.79 555.6v1.8" stroke="#8a8a8a" stroke-width="1" fill="none"/>
<g class="tk"><text x="575.2" y="554.4" text-anchor="end">0.1</text><text x="575.2" y="507.3" text-anchor="end">1</text><text x="575.2" y="460.2" text-anchor="end">10</text><text x="575.2" y="413.1" text-anchor="end">100</text><text x="586.82" y="564.1" text-anchor="middle">0</text><text x="611.61" y="564.1" text-anchor="middle">20</text><text x="636.4" y="564.1" text-anchor="middle">40</text><text x="661.2" y="564.1" text-anchor="middle">60</text><text x="685.99" y="564.1" text-anchor="middle">80</text><text x="710.79" y="564.1" text-anchor="middle">100</text></g>
<text class="ti" x="655" y="398.7" text-anchor="middle">12</text>
<rect x="652.55" y="408" width="77.05" height="77.4" fill="#efebf2" filter="url(#sh)"/>
<g class="inf"><text x="655.55" y="419.3" textLength="70.95" lengthAdjust="spacingAndGlyphs">Cl = 0.00000677</text><text x="655.55" y="430.85" textLength="42.57" lengthAdjust="spacingAndGlyphs">V1 = 10.3</text><text x="655.55" y="442.4" textLength="47.3" lengthAdjust="spacingAndGlyphs">Q2 = 0.751</text><text x="655.55" y="453.95" textLength="42.57" lengthAdjust="spacingAndGlyphs">V2 = 6.76</text><text x="655.55" y="465.5" textLength="37.84" lengthAdjust="spacingAndGlyphs">Q3 = 2.5</text><text x="655.55" y="477.05" textLength="56.76" lengthAdjust="spacingAndGlyphs">V3 = 1.79e+4</text></g>
</g>
<g transform="translate(12.3,337.6) rotate(-90)"><text font-family="Liberation Sans, sans-serif" font-size="8" fill="#222" x="0" y="0">DV</text><text font-family="Liberation Mono, monospace" font-size="7.1" fill="#999" x="15" y="0">(ng·L<tspan dy="-2.4" font-size="5.2">-1</tspan><tspan dy="2.4">)</tspan></text></g>
<text font-family="Liberation Sans, sans-serif" font-size="8.8" fill="#333" x="359" y="574.6">time</text>
<text font-family="Liberation Mono, monospace" font-size="6.8" fill="#999" x="381.6" y="574.4">(min)</text>
</svg>
<div id="tb"><div id="pg1"></div>
<svg class="ic" style="left:0;top:0" width="755" height="22" viewBox="0 0 755 22">
<g fill="#fff">
<path d="M14.2 7.6h1.2v5.2h7.6v1.2h-8.8z"/>
<path d="M16 12.2v-2.4l1.7-1.9 1.6 1.3 2.3-1.7v4.7z" opacity=".85"/>
<path d="M26.6 9.3h4.4l-2.2 2.4z"/>
<path d="M41 7h2.6v2H41zM43.9 7h2.6v2h-2.6zM46.8 7h2.6v2h-2.6zM41 9.4h2.6v2H41zM43.9 9.4h2.6v2h-2.6zM46.8 9.4h2.6v2h-2.6zM41 11.8h2.6v2H41zM43.9 11.8h2.6v2h-2.6zM46.8 11.8h2.6v2h-2.6z"/>
<path d="M52.2 9.3h4.4l-2.2 2.4z"/>
<path d="M68.9 6.6h2.4v3h1.9l-3.1 3-3.1-3h1.9z"/>
<path d="M66 12.2h2.6l1.5 1.2 1.5-1.2h2.6v2.4H66z"/>
<path d="M78 9.3h4.4l-2.2 2.4z"/>
<path d="M92.2 5.2h5.2l2.6 2.6v7.6h-7.8z"/>
</g>
<path d="M97.4 5.2v2.6h2.6z" fill="#cfe9c5"/>
<text x="96" y="13.8" text-anchor="middle" font-family="Liberation Sans, sans-serif" font-weight="bold" font-size="5.6" fill="#62b946">W</text>
<g fill="#fff"><rect x="733" y="8" width="7.6" height="1.3"/><rect x="733" y="10.4" width="7.6" height="1.3"/><rect x="733" y="12.8" width="7.6" height="1.3"/></g>
</svg>
<span style="left:120.7px;color:#b5e0a6;">PREV</span><span style="left:149px;">NEXT</span><span style="left:177.1px;">1</span><span style="left:192.0px;">2</span><span style="left:206.4px;">3</span><span style="left:220.6px;">4</span><span style="left:235.1px;">5</span><span style="left:249.8px;">6</span></div>
<div id="vline"></div>
<div id="rp"><div class="bar" style="top:0;height:21.4px;line-height:20.2px;box-shadow:inset 0 -1.6px 1.4px rgba(0,0,0,.13)"><b>GENERAL</b></div><div class="tg" style="top:35.1px"><i></i><u></u></div><div class="lbl" style="left:43.6px;top:36.0px;">Legend</div><div class="tg on" style="top:60.6px"><i></i><u></u></div><div class="lbl" style="left:43.6px;top:61.5px;">Grid</div><div class="tg on" style="top:86.3px"><i></i><u></u></div><div class="lbl" style="left:43.6px;top:87.2px;">Information</div><div class="rd on" style="top:112.2px"></div><div class="lbl" style="left:33.8px;top:112.8px;">Individual parameters</div><div class="rd" style="top:127.6px"></div><div class="lbl" style="left:33.8px;top:128.2px;">Continuous covariates</div><div class="tg on" style="top:153.3px"><i></i><u></u></div><div class="lbl" style="left:43.6px;top:154.2px;">Units</div><div class="tg" style="top:178.9px"><i></i><u></u></div><div class="lbl" style="left:43.6px;top:179.8px;">Dosing times</div><div style="position:absolute;left:0;width:257px;top:206.8px;text-align:center;font-size:12.2px;line-height:16px;color:#999"><span style="display:inline-block;transform:scaleX(0.88)">Zoom</span></div><div class="lbl" style="left:13.2px;top:228.6px;">Zoom constraint</div><div class="rd" style="top:241.1px"></div><div class="lbl" style="left:33.8px;top:241.7px;">None</div><div class="rd on" style="top:256.6px"></div><div class="lbl" style="left:33.8px;top:257.2px;">X-axis</div><div class="rd" style="top:272.1px"></div><div class="lbl" style="left:33.8px;top:272.7px;">Y-axis</div><div class="tg on" style="top:297.6px"><i></i><u></u></div><div class="lbl" style="left:43.6px;top:298.5px;">Link zoom between plots</div><div class="bar" style="top:336px;height:22px;line-height:21.6px;"><b>DISPLAY</b></div><div class="bar" style="top:357.6px;height:21.4px;line-height:22.2px;box-shadow:inset 0 1px 0 rgba(0,0,0,.10),inset 0 -1.6px 1.4px rgba(0,0,0,.13)"><b>SORTING</b></div><div class="rd on" style="top:392.9px"></div><div class="lbl" style="left:33.8px;top:393.5px;">ID</div><div class="rd" style="top:408.6px"></div><div class="lbl" style="left:33.8px;top:409.2px;">Individual parameters</div><div class="rd" style="top:424.2px"></div><div class="lbl" style="left:33.8px;top:424.8px;">Continuous covariate</div><div class="rd on" style="top:449.6px"></div><div class="lbl" style="left:33.8px;top:450.2px;">Ascending</div><div class="rd" style="top:465.6px"></div><div class="lbl" style="left:33.8px;top:466.2px;">Descending</div><div class="bar" style="top:504.3px;height:20.8px;line-height:20.4px;box-shadow:inset 0 -1.6px 1.4px rgba(0,0,0,.13)"><b>AXES</b></div><div style="position:absolute;left:0;top:526px;width:257px;height:32px;background:#eee"></div><div id="tabs"><div style="left:0;width:85px"><b>STRATIFY</b></div><div style="left:85px;width:86.1px;background:#999;color:#fff"><b>SETTINGS</b></div><div style="left:171.1px;width:85.9px"><b>PREFERENCES</b></div></div></div>
</body></html>
